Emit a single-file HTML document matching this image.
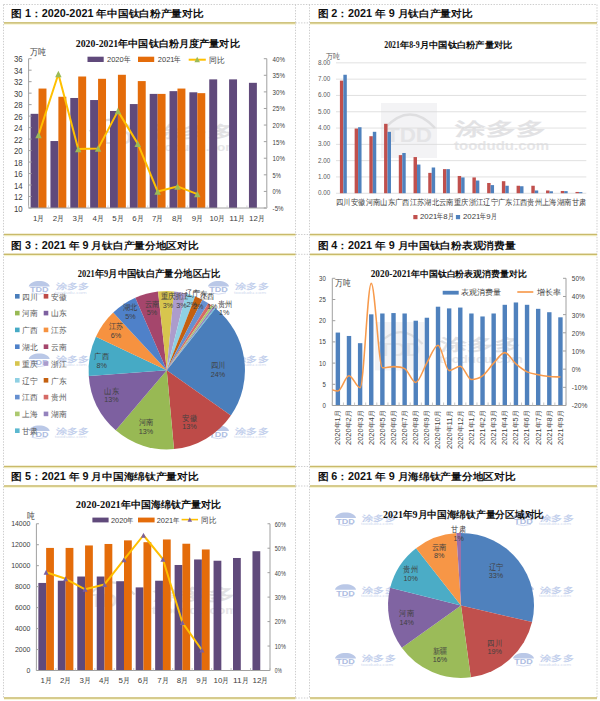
<!DOCTYPE html>
<html><head><meta charset="utf-8"><title>钛白粉与海绵钛产量图表</title>
<style>
html,body{margin:0;padding:0;background:#fff;}
body{width:600px;height:701px;overflow:hidden;position:relative;font-family:"Liberation Sans",sans-serif;}
svg{position:absolute;left:0;top:0;display:block;}
svg text{font-family:"Liberation Sans",sans-serif;white-space:pre;}
</style></head><body>
<svg width="600" height="701" viewBox="0 0 600 701">
<line x1="3.50" y1="4.50" x2="3.50" y2="698.50" stroke="#cdcdcd" stroke-width="1" stroke-dasharray="1.4,1.4"/>
<line x1="295.50" y1="4.50" x2="295.50" y2="698.50" stroke="#cdcdcd" stroke-width="1" stroke-dasharray="1.4,1.4"/>
<line x1="309.50" y1="4.50" x2="309.50" y2="698.50" stroke="#cdcdcd" stroke-width="1" stroke-dasharray="1.4,1.4"/>
<line x1="597.00" y1="4.50" x2="597.00" y2="698.50" stroke="#cdcdcd" stroke-width="1" stroke-dasharray="1.4,1.4"/>
<line x1="3.50" y1="4.50" x2="597.00" y2="4.50" stroke="#cdcdcd" stroke-width="1" stroke-dasharray="1.4,1.4"/>
<line x1="295.50" y1="22.90" x2="309.50" y2="22.90" stroke="#cdcdcd" stroke-width="1" stroke-dasharray="1.4,1.4"/>
<rect x="4.00" y="23.60" width="291.50" height="1.20" fill="#f8f6d2"/>
<rect x="4.00" y="22.15" width="291.50" height="1.50" fill="#c9ba6a"/>
<rect x="310.00" y="23.60" width="287.00" height="1.20" fill="#f8f6d2"/>
<rect x="310.00" y="22.15" width="287.00" height="1.50" fill="#c9ba6a"/>
<line x1="295.50" y1="234.50" x2="309.50" y2="234.50" stroke="#cdcdcd" stroke-width="1" stroke-dasharray="1.4,1.4"/>
<rect x="4.00" y="235.20" width="291.50" height="1.20" fill="#f8f6d2"/>
<rect x="4.00" y="233.75" width="291.50" height="1.50" fill="#c9ba6a"/>
<rect x="310.00" y="235.20" width="287.00" height="1.20" fill="#f8f6d2"/>
<rect x="310.00" y="233.75" width="287.00" height="1.50" fill="#c9ba6a"/>
<line x1="295.50" y1="254.30" x2="309.50" y2="254.30" stroke="#cdcdcd" stroke-width="1" stroke-dasharray="1.4,1.4"/>
<rect x="4.00" y="255.00" width="291.50" height="1.20" fill="#f8f6d2"/>
<rect x="4.00" y="253.55" width="291.50" height="1.50" fill="#c9ba6a"/>
<rect x="310.00" y="255.00" width="287.00" height="1.20" fill="#f8f6d2"/>
<rect x="310.00" y="253.55" width="287.00" height="1.50" fill="#c9ba6a"/>
<line x1="295.50" y1="466.50" x2="309.50" y2="466.50" stroke="#cdcdcd" stroke-width="1" stroke-dasharray="1.4,1.4"/>
<rect x="4.00" y="467.20" width="291.50" height="1.20" fill="#f8f6d2"/>
<rect x="4.00" y="465.75" width="291.50" height="1.50" fill="#c9ba6a"/>
<rect x="310.00" y="467.20" width="287.00" height="1.20" fill="#f8f6d2"/>
<rect x="310.00" y="465.75" width="287.00" height="1.50" fill="#c9ba6a"/>
<line x1="295.50" y1="486.00" x2="309.50" y2="486.00" stroke="#cdcdcd" stroke-width="1" stroke-dasharray="1.4,1.4"/>
<rect x="4.00" y="486.70" width="291.50" height="1.20" fill="#f8f6d2"/>
<rect x="4.00" y="485.25" width="291.50" height="1.50" fill="#c9ba6a"/>
<rect x="310.00" y="486.70" width="287.00" height="1.20" fill="#f8f6d2"/>
<rect x="310.00" y="485.25" width="287.00" height="1.50" fill="#c9ba6a"/>
<line x1="295.50" y1="698.00" x2="309.50" y2="698.00" stroke="#cdcdcd" stroke-width="1" stroke-dasharray="1.4,1.4"/>
<rect x="4.00" y="698.70" width="291.50" height="1.20" fill="#f8f6d2"/>
<rect x="4.00" y="697.25" width="291.50" height="1.50" fill="#c9ba6a"/>
<rect x="310.00" y="698.70" width="287.00" height="1.20" fill="#f8f6d2"/>
<rect x="310.00" y="697.25" width="287.00" height="1.50" fill="#c9ba6a"/>
<text x="11.30" y="16.70" font-size="9.6" fill="#111" font-weight="bold" textLength="10.70" lengthAdjust="spacingAndGlyphs">图</text>
<text x="22.00" y="16.70" font-size="10.2" fill="#111" font-weight="bold" textLength="9.02" lengthAdjust="spacingAndGlyphs"> 1</text>
<text x="31.02" y="16.70" font-size="9.6" fill="#111" font-weight="bold" textLength="10.70" lengthAdjust="spacingAndGlyphs">：</text>
<text x="41.72" y="16.70" font-size="10.2" fill="#111" font-weight="bold" textLength="54.71" lengthAdjust="spacingAndGlyphs">2020-2021 </text>
<text x="96.43" y="16.70" font-size="9.6" fill="#111" font-weight="bold" textLength="107.00" lengthAdjust="spacingAndGlyphs">年中国钛白粉产量对比</text>
<text x="317.50" y="16.70" font-size="9.6" fill="#111" font-weight="bold" textLength="10.70" lengthAdjust="spacingAndGlyphs">图</text>
<text x="328.20" y="16.70" font-size="10.2" fill="#111" font-weight="bold" textLength="9.02" lengthAdjust="spacingAndGlyphs"> 2</text>
<text x="337.22" y="16.70" font-size="9.6" fill="#111" font-weight="bold" textLength="10.70" lengthAdjust="spacingAndGlyphs">：</text>
<text x="347.92" y="16.70" font-size="10.2" fill="#111" font-weight="bold" textLength="27.06" lengthAdjust="spacingAndGlyphs">2021 </text>
<text x="374.97" y="16.70" font-size="9.6" fill="#111" font-weight="bold" textLength="10.70" lengthAdjust="spacingAndGlyphs">年</text>
<text x="385.67" y="16.70" font-size="10.2" fill="#111" font-weight="bold" textLength="12.02" lengthAdjust="spacingAndGlyphs"> 9 </text>
<text x="397.69" y="16.70" font-size="9.6" fill="#111" font-weight="bold" textLength="74.90" lengthAdjust="spacingAndGlyphs">月钛白产量对比</text>
<text x="11.30" y="248.50" font-size="9.6" fill="#111" font-weight="bold" textLength="10.70" lengthAdjust="spacingAndGlyphs">图</text>
<text x="22.00" y="248.50" font-size="10.2" fill="#111" font-weight="bold" textLength="9.02" lengthAdjust="spacingAndGlyphs"> 3</text>
<text x="31.02" y="248.50" font-size="9.6" fill="#111" font-weight="bold" textLength="10.70" lengthAdjust="spacingAndGlyphs">：</text>
<text x="41.72" y="248.50" font-size="10.2" fill="#111" font-weight="bold" textLength="27.06" lengthAdjust="spacingAndGlyphs">2021 </text>
<text x="68.77" y="248.50" font-size="9.6" fill="#111" font-weight="bold" textLength="10.70" lengthAdjust="spacingAndGlyphs">年</text>
<text x="79.47" y="248.50" font-size="10.2" fill="#111" font-weight="bold" textLength="12.02" lengthAdjust="spacingAndGlyphs"> 9 </text>
<text x="91.49" y="248.50" font-size="9.6" fill="#111" font-weight="bold" textLength="107.00" lengthAdjust="spacingAndGlyphs">月钛白产量分地区对比</text>
<text x="317.50" y="248.50" font-size="9.6" fill="#111" font-weight="bold" textLength="10.70" lengthAdjust="spacingAndGlyphs">图</text>
<text x="328.20" y="248.50" font-size="10.2" fill="#111" font-weight="bold" textLength="9.02" lengthAdjust="spacingAndGlyphs"> 4</text>
<text x="337.22" y="248.50" font-size="9.6" fill="#111" font-weight="bold" textLength="10.70" lengthAdjust="spacingAndGlyphs">：</text>
<text x="347.92" y="248.50" font-size="10.2" fill="#111" font-weight="bold" textLength="27.06" lengthAdjust="spacingAndGlyphs">2021 </text>
<text x="374.97" y="248.50" font-size="9.6" fill="#111" font-weight="bold" textLength="10.70" lengthAdjust="spacingAndGlyphs">年</text>
<text x="385.67" y="248.50" font-size="10.2" fill="#111" font-weight="bold" textLength="12.02" lengthAdjust="spacingAndGlyphs"> 9 </text>
<text x="397.69" y="248.50" font-size="9.6" fill="#111" font-weight="bold" textLength="117.70" lengthAdjust="spacingAndGlyphs">月中国钛白粉表观消费量</text>
<text x="11.30" y="480.30" font-size="9.6" fill="#111" font-weight="bold" textLength="10.70" lengthAdjust="spacingAndGlyphs">图</text>
<text x="22.00" y="480.30" font-size="10.2" fill="#111" font-weight="bold" textLength="9.02" lengthAdjust="spacingAndGlyphs"> 5</text>
<text x="31.02" y="480.30" font-size="9.6" fill="#111" font-weight="bold" textLength="10.70" lengthAdjust="spacingAndGlyphs">：</text>
<text x="41.72" y="480.30" font-size="10.2" fill="#111" font-weight="bold" textLength="27.06" lengthAdjust="spacingAndGlyphs">2021 </text>
<text x="68.77" y="480.30" font-size="9.6" fill="#111" font-weight="bold" textLength="10.70" lengthAdjust="spacingAndGlyphs">年</text>
<text x="79.47" y="480.30" font-size="10.2" fill="#111" font-weight="bold" textLength="12.02" lengthAdjust="spacingAndGlyphs"> 9 </text>
<text x="91.49" y="480.30" font-size="9.6" fill="#111" font-weight="bold" textLength="107.00" lengthAdjust="spacingAndGlyphs">月中国海绵钛产量对比</text>
<text x="317.50" y="480.30" font-size="9.6" fill="#111" font-weight="bold" textLength="10.70" lengthAdjust="spacingAndGlyphs">图</text>
<text x="328.20" y="480.30" font-size="10.2" fill="#111" font-weight="bold" textLength="9.02" lengthAdjust="spacingAndGlyphs"> 6</text>
<text x="337.22" y="480.30" font-size="9.6" fill="#111" font-weight="bold" textLength="10.70" lengthAdjust="spacingAndGlyphs">：</text>
<text x="347.92" y="480.30" font-size="10.2" fill="#111" font-weight="bold" textLength="27.06" lengthAdjust="spacingAndGlyphs">2021 </text>
<text x="374.97" y="480.30" font-size="9.6" fill="#111" font-weight="bold" textLength="10.70" lengthAdjust="spacingAndGlyphs">年</text>
<text x="385.67" y="480.30" font-size="10.2" fill="#111" font-weight="bold" textLength="12.02" lengthAdjust="spacingAndGlyphs"> 9 </text>
<text x="397.69" y="480.30" font-size="9.6" fill="#111" font-weight="bold" textLength="117.70" lengthAdjust="spacingAndGlyphs">月海绵钛产量分地区对比</text>
<path d="M89.60,131.50 Q112.10,107.20 134.60,131.50" fill="none" stroke="#dedee0" stroke-width="2.25"/>
<text x="90.50" y="144.10" font-size="18.0" fill="#e4e4e6" font-weight="bold" textLength="41.40" lengthAdjust="spacingAndGlyphs">TDD</text>
<text x="152.60" y="137.35" font-size="16.2" fill="#e2e2e4" font-weight="bold" textLength="82.80" lengthAdjust="spacingAndGlyphs">涂多多</text>
<text x="151.70" y="151.30" font-size="11.7" fill="#e6e6e8" font-weight="bold" textLength="85.50" lengthAdjust="spacingAndGlyphs">toodudu.com</text>
<rect x="30.59" y="113.83" width="7.94" height="94.17" fill="#604a7b"/>
<rect x="38.53" y="88.56" width="7.94" height="119.44" fill="#e46c0a"/>
<text x="32.93" y="221.20" font-size="7.9" fill="#404040" textLength="4.39" lengthAdjust="spacingAndGlyphs">1</text>
<text x="37.32" y="221.20" font-size="7.9" fill="#404040" textLength="6.81" lengthAdjust="spacingAndGlyphs">月</text>
<rect x="50.44" y="141.04" width="7.94" height="66.96" fill="#604a7b"/>
<rect x="58.38" y="96.77" width="7.94" height="111.23" fill="#e46c0a"/>
<text x="52.77" y="221.20" font-size="7.9" fill="#404040" textLength="4.39" lengthAdjust="spacingAndGlyphs">2</text>
<text x="57.17" y="221.20" font-size="7.9" fill="#404040" textLength="6.81" lengthAdjust="spacingAndGlyphs">月</text>
<rect x="70.28" y="97.98" width="7.94" height="110.02" fill="#604a7b"/>
<rect x="78.22" y="76.50" width="7.94" height="131.50" fill="#e46c0a"/>
<text x="72.62" y="221.20" font-size="7.9" fill="#404040" textLength="4.39" lengthAdjust="spacingAndGlyphs">3</text>
<text x="77.02" y="221.20" font-size="7.9" fill="#404040" textLength="6.81" lengthAdjust="spacingAndGlyphs">月</text>
<rect x="90.14" y="100.04" width="7.94" height="107.96" fill="#604a7b"/>
<rect x="98.08" y="78.80" width="7.94" height="129.20" fill="#e46c0a"/>
<text x="92.48" y="221.20" font-size="7.9" fill="#404040" textLength="4.39" lengthAdjust="spacingAndGlyphs">4</text>
<text x="96.87" y="221.20" font-size="7.9" fill="#404040" textLength="6.81" lengthAdjust="spacingAndGlyphs">月</text>
<rect x="109.99" y="110.96" width="7.94" height="97.04" fill="#604a7b"/>
<rect x="117.93" y="74.78" width="7.94" height="133.22" fill="#e46c0a"/>
<text x="112.33" y="221.20" font-size="7.9" fill="#404040" textLength="4.39" lengthAdjust="spacingAndGlyphs">5</text>
<text x="116.72" y="221.20" font-size="7.9" fill="#404040" textLength="6.81" lengthAdjust="spacingAndGlyphs">月</text>
<rect x="129.84" y="104.06" width="7.94" height="103.94" fill="#604a7b"/>
<rect x="137.78" y="81.09" width="7.94" height="126.91" fill="#e46c0a"/>
<text x="132.18" y="221.20" font-size="7.9" fill="#404040" textLength="4.39" lengthAdjust="spacingAndGlyphs">6</text>
<text x="136.57" y="221.20" font-size="7.9" fill="#404040" textLength="6.81" lengthAdjust="spacingAndGlyphs">月</text>
<rect x="149.69" y="93.90" width="7.94" height="114.10" fill="#604a7b"/>
<rect x="157.62" y="93.90" width="7.94" height="114.10" fill="#e46c0a"/>
<text x="152.03" y="221.20" font-size="7.9" fill="#404040" textLength="4.39" lengthAdjust="spacingAndGlyphs">7</text>
<text x="156.42" y="221.20" font-size="7.9" fill="#404040" textLength="6.81" lengthAdjust="spacingAndGlyphs">月</text>
<rect x="169.53" y="91.14" width="7.94" height="116.86" fill="#604a7b"/>
<rect x="177.47" y="88.56" width="7.94" height="119.44" fill="#e46c0a"/>
<text x="171.88" y="221.20" font-size="7.9" fill="#404040" textLength="4.39" lengthAdjust="spacingAndGlyphs">8</text>
<text x="176.27" y="221.20" font-size="7.9" fill="#404040" textLength="6.81" lengthAdjust="spacingAndGlyphs">月</text>
<rect x="189.39" y="92.29" width="7.94" height="115.71" fill="#604a7b"/>
<rect x="197.33" y="93.15" width="7.94" height="114.85" fill="#e46c0a"/>
<text x="191.73" y="221.20" font-size="7.9" fill="#404040" textLength="4.39" lengthAdjust="spacingAndGlyphs">9</text>
<text x="196.12" y="221.20" font-size="7.9" fill="#404040" textLength="6.81" lengthAdjust="spacingAndGlyphs">月</text>
<rect x="209.24" y="79.37" width="7.94" height="128.63" fill="#604a7b"/>
<text x="209.43" y="221.20" font-size="7.9" fill="#404040" textLength="8.79" lengthAdjust="spacingAndGlyphs">10</text>
<text x="218.21" y="221.20" font-size="7.9" fill="#404040" textLength="6.71" lengthAdjust="spacingAndGlyphs">月</text>
<rect x="229.09" y="79.37" width="7.94" height="128.63" fill="#604a7b"/>
<text x="229.28" y="221.20" font-size="7.9" fill="#404040" textLength="8.79" lengthAdjust="spacingAndGlyphs">11</text>
<text x="238.06" y="221.20" font-size="7.9" fill="#404040" textLength="6.71" lengthAdjust="spacingAndGlyphs">月</text>
<rect x="248.94" y="82.82" width="7.94" height="125.18" fill="#604a7b"/>
<text x="249.12" y="221.20" font-size="7.9" fill="#404040" textLength="8.79" lengthAdjust="spacingAndGlyphs">12</text>
<text x="257.91" y="221.20" font-size="7.9" fill="#404040" textLength="6.71" lengthAdjust="spacingAndGlyphs">月</text>
<line x1="28.60" y1="58.70" x2="28.60" y2="208.00" stroke="#a0a0a0" stroke-width="1"/>
<line x1="266.80" y1="58.70" x2="266.80" y2="208.00" stroke="#a0a0a0" stroke-width="1"/>
<line x1="28.60" y1="208.00" x2="266.80" y2="208.00" stroke="#a0a0a0" stroke-width="1"/>
<line x1="28.60" y1="208.00" x2="31.60" y2="208.00" stroke="#a0a0a0" stroke-width="1"/>
<text x="13.99" y="211.60" font-size="8.8" fill="#404040" textLength="8.71" lengthAdjust="spacingAndGlyphs">10</text>
<line x1="28.60" y1="196.52" x2="31.60" y2="196.52" stroke="#a0a0a0" stroke-width="1"/>
<text x="13.99" y="200.12" font-size="8.8" fill="#404040" textLength="8.71" lengthAdjust="spacingAndGlyphs">12</text>
<line x1="28.60" y1="185.03" x2="31.60" y2="185.03" stroke="#a0a0a0" stroke-width="1"/>
<text x="13.99" y="188.63" font-size="8.8" fill="#404040" textLength="8.71" lengthAdjust="spacingAndGlyphs">14</text>
<line x1="28.60" y1="173.55" x2="31.60" y2="173.55" stroke="#a0a0a0" stroke-width="1"/>
<text x="13.99" y="177.15" font-size="8.8" fill="#404040" textLength="8.71" lengthAdjust="spacingAndGlyphs">16</text>
<line x1="28.60" y1="162.06" x2="31.60" y2="162.06" stroke="#a0a0a0" stroke-width="1"/>
<text x="13.99" y="165.66" font-size="8.8" fill="#404040" textLength="8.71" lengthAdjust="spacingAndGlyphs">18</text>
<line x1="28.60" y1="150.58" x2="31.60" y2="150.58" stroke="#a0a0a0" stroke-width="1"/>
<text x="13.99" y="154.18" font-size="8.8" fill="#404040" textLength="8.71" lengthAdjust="spacingAndGlyphs">20</text>
<line x1="28.60" y1="139.09" x2="31.60" y2="139.09" stroke="#a0a0a0" stroke-width="1"/>
<text x="13.99" y="142.69" font-size="8.8" fill="#404040" textLength="8.71" lengthAdjust="spacingAndGlyphs">22</text>
<line x1="28.60" y1="127.61" x2="31.60" y2="127.61" stroke="#a0a0a0" stroke-width="1"/>
<text x="13.99" y="131.21" font-size="8.8" fill="#404040" textLength="8.71" lengthAdjust="spacingAndGlyphs">24</text>
<line x1="28.60" y1="116.12" x2="31.60" y2="116.12" stroke="#a0a0a0" stroke-width="1"/>
<text x="13.99" y="119.72" font-size="8.8" fill="#404040" textLength="8.71" lengthAdjust="spacingAndGlyphs">26</text>
<line x1="28.60" y1="104.64" x2="31.60" y2="104.64" stroke="#a0a0a0" stroke-width="1"/>
<text x="13.99" y="108.24" font-size="8.8" fill="#404040" textLength="8.71" lengthAdjust="spacingAndGlyphs">28</text>
<line x1="28.60" y1="93.15" x2="31.60" y2="93.15" stroke="#a0a0a0" stroke-width="1"/>
<text x="13.99" y="96.75" font-size="8.8" fill="#404040" textLength="8.71" lengthAdjust="spacingAndGlyphs">30</text>
<line x1="28.60" y1="81.67" x2="31.60" y2="81.67" stroke="#a0a0a0" stroke-width="1"/>
<text x="13.99" y="85.27" font-size="8.8" fill="#404040" textLength="8.71" lengthAdjust="spacingAndGlyphs">32</text>
<line x1="28.60" y1="70.18" x2="31.60" y2="70.18" stroke="#a0a0a0" stroke-width="1"/>
<text x="13.99" y="73.78" font-size="8.8" fill="#404040" textLength="8.71" lengthAdjust="spacingAndGlyphs">34</text>
<line x1="28.60" y1="58.70" x2="31.60" y2="58.70" stroke="#a0a0a0" stroke-width="1"/>
<text x="13.99" y="62.30" font-size="8.8" fill="#404040" textLength="8.71" lengthAdjust="spacingAndGlyphs">36</text>
<line x1="263.80" y1="208.00" x2="266.80" y2="208.00" stroke="#a0a0a0" stroke-width="1"/>
<text x="272.60" y="210.90" font-size="8.0" fill="#404040" textLength="10.90" lengthAdjust="spacingAndGlyphs">-5%</text>
<line x1="263.80" y1="191.41" x2="266.80" y2="191.41" stroke="#a0a0a0" stroke-width="1"/>
<text x="272.60" y="194.31" font-size="8.0" fill="#404040" textLength="8.30" lengthAdjust="spacingAndGlyphs">0%</text>
<line x1="263.80" y1="174.82" x2="266.80" y2="174.82" stroke="#a0a0a0" stroke-width="1"/>
<text x="272.60" y="177.72" font-size="8.0" fill="#404040" textLength="8.30" lengthAdjust="spacingAndGlyphs">5%</text>
<line x1="263.80" y1="158.23" x2="266.80" y2="158.23" stroke="#a0a0a0" stroke-width="1"/>
<text x="272.60" y="161.13" font-size="8.0" fill="#404040" textLength="12.30" lengthAdjust="spacingAndGlyphs">10%</text>
<line x1="263.80" y1="141.64" x2="266.80" y2="141.64" stroke="#a0a0a0" stroke-width="1"/>
<text x="272.60" y="144.54" font-size="8.0" fill="#404040" textLength="12.30" lengthAdjust="spacingAndGlyphs">15%</text>
<line x1="263.80" y1="125.06" x2="266.80" y2="125.06" stroke="#a0a0a0" stroke-width="1"/>
<text x="272.60" y="127.96" font-size="8.0" fill="#404040" textLength="12.30" lengthAdjust="spacingAndGlyphs">20%</text>
<line x1="263.80" y1="108.47" x2="266.80" y2="108.47" stroke="#a0a0a0" stroke-width="1"/>
<text x="272.60" y="111.37" font-size="8.0" fill="#404040" textLength="12.30" lengthAdjust="spacingAndGlyphs">25%</text>
<line x1="263.80" y1="91.88" x2="266.80" y2="91.88" stroke="#a0a0a0" stroke-width="1"/>
<text x="272.60" y="94.78" font-size="8.0" fill="#404040" textLength="12.30" lengthAdjust="spacingAndGlyphs">30%</text>
<line x1="263.80" y1="75.29" x2="266.80" y2="75.29" stroke="#a0a0a0" stroke-width="1"/>
<text x="272.60" y="78.19" font-size="8.0" fill="#404040" textLength="12.30" lengthAdjust="spacingAndGlyphs">35%</text>
<line x1="263.80" y1="58.70" x2="266.80" y2="58.70" stroke="#a0a0a0" stroke-width="1"/>
<text x="272.60" y="61.60" font-size="8.0" fill="#404040" textLength="12.30" lengthAdjust="spacingAndGlyphs">40%</text>
<line x1="28.60" y1="205.50" x2="28.60" y2="208.00" stroke="#c8c8c8" stroke-width="0.8"/>
<line x1="48.45" y1="205.50" x2="48.45" y2="208.00" stroke="#c8c8c8" stroke-width="0.8"/>
<line x1="68.30" y1="205.50" x2="68.30" y2="208.00" stroke="#c8c8c8" stroke-width="0.8"/>
<line x1="88.15" y1="205.50" x2="88.15" y2="208.00" stroke="#c8c8c8" stroke-width="0.8"/>
<line x1="108.00" y1="205.50" x2="108.00" y2="208.00" stroke="#c8c8c8" stroke-width="0.8"/>
<line x1="127.85" y1="205.50" x2="127.85" y2="208.00" stroke="#c8c8c8" stroke-width="0.8"/>
<line x1="147.70" y1="205.50" x2="147.70" y2="208.00" stroke="#c8c8c8" stroke-width="0.8"/>
<line x1="167.55" y1="205.50" x2="167.55" y2="208.00" stroke="#c8c8c8" stroke-width="0.8"/>
<line x1="187.40" y1="205.50" x2="187.40" y2="208.00" stroke="#c8c8c8" stroke-width="0.8"/>
<line x1="207.25" y1="205.50" x2="207.25" y2="208.00" stroke="#c8c8c8" stroke-width="0.8"/>
<line x1="227.10" y1="205.50" x2="227.10" y2="208.00" stroke="#c8c8c8" stroke-width="0.8"/>
<line x1="246.95" y1="205.50" x2="246.95" y2="208.00" stroke="#c8c8c8" stroke-width="0.8"/>
<line x1="266.80" y1="205.50" x2="266.80" y2="208.00" stroke="#c8c8c8" stroke-width="0.8"/>
<polyline points="38.53,135.01 58.38,73.96 78.22,148.94 98.08,148.61 117.93,111.12 137.78,143.64 157.62,191.41 177.47,186.43 197.33,194.07" fill="none" stroke="#ffc000" stroke-width="2" stroke-linejoin="round"/>
<path d="M38.53,131.76 L41.78,138.26 L35.28,138.26 Z" fill="#9bbb59"/>
<path d="M58.38,70.71 L61.62,77.21 L55.12,77.21 Z" fill="#9bbb59"/>
<path d="M78.22,145.69 L81.47,152.19 L74.97,152.19 Z" fill="#9bbb59"/>
<path d="M98.08,145.36 L101.33,151.86 L94.83,151.86 Z" fill="#9bbb59"/>
<path d="M117.93,107.87 L121.18,114.37 L114.68,114.37 Z" fill="#9bbb59"/>
<path d="M137.78,140.39 L141.03,146.89 L134.53,146.89 Z" fill="#9bbb59"/>
<path d="M157.62,188.16 L160.88,194.66 L154.38,194.66 Z" fill="#9bbb59"/>
<path d="M177.47,183.18 L180.72,189.68 L174.22,189.68 Z" fill="#9bbb59"/>
<path d="M197.33,190.82 L200.58,197.32 L194.08,197.32 Z" fill="#9bbb59"/>
<text x="75.80" y="46.70" font-size="9.8" fill="#111" font-weight="bold" style="font-family:'Liberation Serif',serif" textLength="42.46" lengthAdjust="spacingAndGlyphs">2020-2021</text>
<text x="118.26" y="46.70" font-size="10.0" fill="#111" font-weight="bold" textLength="121.44" lengthAdjust="spacingAndGlyphs">年中国钛白粉月度产量对比</text>
<text x="30.00" y="54.50" font-size="8.5" fill="#404040" textLength="16.00" lengthAdjust="spacingAndGlyphs">万吨</text>
<rect x="87.50" y="56.70" width="16.20" height="5.30" fill="#604a7b"/>
<text x="107.00" y="62.40" font-size="7.5" fill="#404040" textLength="16.68" lengthAdjust="spacingAndGlyphs">2020</text>
<text x="123.68" y="62.40" font-size="7.5" fill="#404040" textLength="6.62" lengthAdjust="spacingAndGlyphs">年</text>
<rect x="138.00" y="56.70" width="16.20" height="5.30" fill="#e46c0a"/>
<text x="157.80" y="62.40" font-size="7.5" fill="#404040" textLength="16.68" lengthAdjust="spacingAndGlyphs">2021</text>
<text x="174.48" y="62.40" font-size="7.5" fill="#404040" textLength="6.62" lengthAdjust="spacingAndGlyphs">年</text>
<line x1="188.70" y1="59.70" x2="205.80" y2="59.70" stroke="#ffc000" stroke-width="2"/>
<path d="M197.20,56.75 L199.95,62.25 L194.45,62.25 Z" fill="#9bbb59"/>
<text x="209.00" y="62.60" font-size="8.0" fill="#404040" textLength="15.50" lengthAdjust="spacingAndGlyphs">同比</text>
<rect x="381.00" y="103.00" width="56.00" height="55.00" fill="#f3f3f5"/>
<path d="M385.00,128.00 Q410.00,101.00 435.00,128.00" fill="none" stroke="#dedee0" stroke-width="2.50"/>
<text x="386.00" y="142.00" font-size="20.0" fill="#e4e4e6" font-weight="bold" textLength="46.00" lengthAdjust="spacingAndGlyphs">TDD</text>
<text x="455.00" y="134.50" font-size="18.0" fill="#e2e2e4" font-weight="bold" textLength="92.00" lengthAdjust="spacingAndGlyphs">涂多多</text>
<text x="454.00" y="150.00" font-size="13.0" fill="#e6e6e8" font-weight="bold" textLength="95.00" lengthAdjust="spacingAndGlyphs">toodudu.com</text>
<line x1="336.00" y1="193.25" x2="586.30" y2="193.25" stroke="#d9d9d9" stroke-width="0.8"/>
<text x="318.02" y="195.25" font-size="7.6" fill="#595959" textLength="12.28" lengthAdjust="spacingAndGlyphs">0.00</text>
<line x1="336.00" y1="176.95" x2="586.30" y2="176.95" stroke="#d9d9d9" stroke-width="0.8"/>
<text x="318.02" y="178.95" font-size="7.6" fill="#595959" textLength="12.28" lengthAdjust="spacingAndGlyphs">1.00</text>
<line x1="336.00" y1="160.65" x2="586.30" y2="160.65" stroke="#d9d9d9" stroke-width="0.8"/>
<text x="318.02" y="162.65" font-size="7.6" fill="#595959" textLength="12.28" lengthAdjust="spacingAndGlyphs">2.00</text>
<line x1="336.00" y1="144.35" x2="586.30" y2="144.35" stroke="#d9d9d9" stroke-width="0.8"/>
<text x="318.02" y="146.35" font-size="7.6" fill="#595959" textLength="12.28" lengthAdjust="spacingAndGlyphs">3.00</text>
<line x1="336.00" y1="128.05" x2="586.30" y2="128.05" stroke="#d9d9d9" stroke-width="0.8"/>
<text x="318.02" y="130.05" font-size="7.6" fill="#595959" textLength="12.28" lengthAdjust="spacingAndGlyphs">4.00</text>
<line x1="336.00" y1="111.75" x2="586.30" y2="111.75" stroke="#d9d9d9" stroke-width="0.8"/>
<text x="318.02" y="113.75" font-size="7.6" fill="#595959" textLength="12.28" lengthAdjust="spacingAndGlyphs">5.00</text>
<line x1="336.00" y1="95.45" x2="586.30" y2="95.45" stroke="#d9d9d9" stroke-width="0.8"/>
<text x="318.02" y="97.45" font-size="7.6" fill="#595959" textLength="12.28" lengthAdjust="spacingAndGlyphs">6.00</text>
<line x1="336.00" y1="79.15" x2="586.30" y2="79.15" stroke="#d9d9d9" stroke-width="0.8"/>
<text x="318.02" y="81.15" font-size="7.6" fill="#595959" textLength="12.28" lengthAdjust="spacingAndGlyphs">7.00</text>
<line x1="336.00" y1="62.85" x2="586.30" y2="62.85" stroke="#d9d9d9" stroke-width="0.8"/>
<text x="318.02" y="64.85" font-size="7.6" fill="#595959" textLength="12.28" lengthAdjust="spacingAndGlyphs">8.00</text>
<rect x="339.91" y="80.62" width="3.45" height="112.63" fill="#c0504d"/>
<rect x="343.36" y="74.75" width="3.45" height="118.50" fill="#4f81bd"/>
<text x="336.06" y="204.60" font-size="7.6" fill="#404040" textLength="14.60" lengthAdjust="spacingAndGlyphs">四川</text>
<rect x="354.64" y="128.54" width="3.45" height="64.71" fill="#c0504d"/>
<rect x="358.09" y="127.23" width="3.45" height="66.02" fill="#4f81bd"/>
<text x="350.79" y="204.60" font-size="7.6" fill="#404040" textLength="14.60" lengthAdjust="spacingAndGlyphs">安徽</text>
<rect x="369.36" y="136.20" width="3.45" height="57.05" fill="#c0504d"/>
<rect x="372.81" y="131.80" width="3.45" height="61.45" fill="#4f81bd"/>
<text x="365.51" y="204.60" font-size="7.6" fill="#404040" textLength="14.60" lengthAdjust="spacingAndGlyphs">河南</text>
<rect x="384.08" y="123.81" width="3.45" height="69.44" fill="#c0504d"/>
<rect x="387.53" y="131.80" width="3.45" height="61.45" fill="#4f81bd"/>
<text x="380.23" y="204.60" font-size="7.6" fill="#404040" textLength="14.60" lengthAdjust="spacingAndGlyphs">山东</text>
<rect x="398.81" y="155.11" width="3.45" height="38.14" fill="#c0504d"/>
<rect x="402.26" y="152.99" width="3.45" height="40.26" fill="#4f81bd"/>
<text x="394.96" y="204.60" font-size="7.6" fill="#404040" textLength="14.60" lengthAdjust="spacingAndGlyphs">广西</text>
<rect x="413.53" y="157.06" width="3.45" height="36.19" fill="#c0504d"/>
<rect x="416.98" y="164.56" width="3.45" height="28.69" fill="#4f81bd"/>
<text x="409.68" y="204.60" font-size="7.6" fill="#404040" textLength="14.60" lengthAdjust="spacingAndGlyphs">江苏</text>
<rect x="428.25" y="172.88" width="3.45" height="20.38" fill="#c0504d"/>
<rect x="431.70" y="167.50" width="3.45" height="25.75" fill="#4f81bd"/>
<text x="424.40" y="204.60" font-size="7.6" fill="#404040" textLength="14.60" lengthAdjust="spacingAndGlyphs">湖北</text>
<rect x="442.98" y="169.13" width="3.45" height="24.12" fill="#c0504d"/>
<rect x="446.43" y="169.13" width="3.45" height="24.12" fill="#4f81bd"/>
<text x="439.13" y="204.60" font-size="7.6" fill="#404040" textLength="14.60" lengthAdjust="spacingAndGlyphs">云南</text>
<rect x="457.70" y="175.97" width="3.45" height="17.28" fill="#c0504d"/>
<rect x="461.15" y="177.44" width="3.45" height="15.81" fill="#4f81bd"/>
<text x="453.85" y="204.60" font-size="7.6" fill="#404040" textLength="14.60" lengthAdjust="spacingAndGlyphs">重庆</text>
<rect x="472.42" y="177.44" width="3.45" height="15.81" fill="#c0504d"/>
<rect x="475.87" y="180.54" width="3.45" height="12.71" fill="#4f81bd"/>
<text x="468.57" y="204.60" font-size="7.6" fill="#404040" textLength="14.60" lengthAdjust="spacingAndGlyphs">浙江</text>
<rect x="487.15" y="182.98" width="3.45" height="10.27" fill="#c0504d"/>
<rect x="490.60" y="185.10" width="3.45" height="8.15" fill="#4f81bd"/>
<text x="483.30" y="204.60" font-size="7.6" fill="#404040" textLength="14.60" lengthAdjust="spacingAndGlyphs">辽宁</text>
<rect x="501.87" y="181.19" width="3.45" height="12.06" fill="#c0504d"/>
<rect x="505.32" y="185.75" width="3.45" height="7.50" fill="#4f81bd"/>
<text x="498.02" y="204.60" font-size="7.6" fill="#404040" textLength="14.60" lengthAdjust="spacingAndGlyphs">广东</text>
<rect x="516.59" y="185.75" width="3.45" height="7.50" fill="#c0504d"/>
<rect x="520.04" y="186.24" width="3.45" height="7.01" fill="#4f81bd"/>
<text x="512.74" y="204.60" font-size="7.6" fill="#404040" textLength="14.60" lengthAdjust="spacingAndGlyphs">江西</text>
<rect x="531.32" y="185.75" width="3.45" height="7.50" fill="#c0504d"/>
<rect x="534.77" y="190.48" width="3.45" height="2.77" fill="#4f81bd"/>
<text x="527.47" y="204.60" font-size="7.6" fill="#404040" textLength="14.60" lengthAdjust="spacingAndGlyphs">贵州</text>
<rect x="546.04" y="190.48" width="3.45" height="2.77" fill="#c0504d"/>
<rect x="549.49" y="191.29" width="3.45" height="1.96" fill="#4f81bd"/>
<text x="542.19" y="204.60" font-size="7.6" fill="#404040" textLength="14.60" lengthAdjust="spacingAndGlyphs">上海</text>
<rect x="560.76" y="190.97" width="3.45" height="2.28" fill="#c0504d"/>
<rect x="564.21" y="191.13" width="3.45" height="2.12" fill="#4f81bd"/>
<text x="556.91" y="204.60" font-size="7.6" fill="#404040" textLength="14.60" lengthAdjust="spacingAndGlyphs">湖南</text>
<rect x="575.49" y="191.95" width="3.45" height="1.30" fill="#c0504d"/>
<rect x="578.94" y="192.11" width="3.45" height="1.14" fill="#4f81bd"/>
<text x="571.64" y="204.60" font-size="7.6" fill="#404040" textLength="14.60" lengthAdjust="spacingAndGlyphs">甘肃</text>
<text x="384.30" y="47.70" font-size="9.3" fill="#111" font-weight="bold" style="font-family:'Liberation Serif',serif" textLength="15.62" lengthAdjust="spacingAndGlyphs">2021</text>
<text x="399.92" y="47.70" font-size="9.3" fill="#111" font-weight="bold" textLength="9.31" lengthAdjust="spacingAndGlyphs">年</text>
<text x="409.23" y="47.70" font-size="9.3" fill="#111" font-weight="bold" style="font-family:'Liberation Serif',serif" textLength="10.41" lengthAdjust="spacingAndGlyphs">8-9</text>
<text x="419.64" y="47.70" font-size="9.3" fill="#111" font-weight="bold" textLength="93.06" lengthAdjust="spacingAndGlyphs">月中国钛白粉产量对比</text>
<text x="325.50" y="58.60" font-size="8" fill="#595959" textLength="14.00" lengthAdjust="spacingAndGlyphs">万吨</text>
<rect x="413.30" y="215.00" width="4.20" height="4.20" fill="#c0504d"/>
<text x="420.00" y="219.20" font-size="7.8" fill="#404040" textLength="17.35" lengthAdjust="spacingAndGlyphs">2021</text>
<text x="437.35" y="219.20" font-size="7.8" fill="#404040" textLength="5.91" lengthAdjust="spacingAndGlyphs">年</text>
<text x="443.26" y="219.20" font-size="7.8" fill="#404040" textLength="4.34" lengthAdjust="spacingAndGlyphs">8</text>
<text x="447.59" y="219.20" font-size="7.8" fill="#404040" textLength="5.91" lengthAdjust="spacingAndGlyphs">月</text>
<rect x="455.90" y="215.00" width="4.20" height="4.20" fill="#4f81bd"/>
<text x="463.00" y="219.20" font-size="7.8" fill="#404040" textLength="17.35" lengthAdjust="spacingAndGlyphs">2021</text>
<text x="480.35" y="219.20" font-size="7.8" fill="#404040" textLength="5.91" lengthAdjust="spacingAndGlyphs">年</text>
<text x="486.26" y="219.20" font-size="7.8" fill="#404040" textLength="4.34" lengthAdjust="spacingAndGlyphs">9</text>
<text x="490.59" y="219.20" font-size="7.8" fill="#404040" textLength="5.91" lengthAdjust="spacingAndGlyphs">月</text>
<path d="M28.70,286.50 C29.70,279.00 48.70,279.00 49.70,286.50 Z" fill="#bac8e7"/>
<text x="29.90" y="292.30" font-size="7.4" fill="#aebde2" font-weight="bold" textLength="18.60" lengthAdjust="spacingAndGlyphs">TDD</text>
<path d="M31.70,292.80 Q39.20,295.50 46.70,292.80" fill="none" stroke="#c6d1ec" stroke-width="0.8"/>
<text x="55.70" y="289.30" font-size="7.6" fill="#c3cfec" font-weight="bold" textLength="34.00" lengthAdjust="spacingAndGlyphs">涂多多</text>
<text x="54.70" y="293.80" font-size="3.6" fill="#d3dbef" textLength="32.00" lengthAdjust="spacingAndGlyphs">toodudu.com</text>
<path d="M208.00,286.50 C209.00,279.00 228.00,279.00 229.00,286.50 Z" fill="#bac8e7"/>
<text x="209.20" y="292.30" font-size="7.4" fill="#aebde2" font-weight="bold" textLength="18.60" lengthAdjust="spacingAndGlyphs">TDD</text>
<path d="M211.00,292.80 Q218.50,295.50 226.00,292.80" fill="none" stroke="#c6d1ec" stroke-width="0.8"/>
<text x="235.00" y="289.30" font-size="7.6" fill="#c3cfec" font-weight="bold" textLength="34.00" lengthAdjust="spacingAndGlyphs">涂多多</text>
<text x="234.00" y="293.80" font-size="3.6" fill="#d3dbef" textLength="32.00" lengthAdjust="spacingAndGlyphs">toodudu.com</text>
<path d="M28.70,359.00 C29.70,351.50 48.70,351.50 49.70,359.00 Z" fill="#bac8e7"/>
<text x="29.90" y="364.80" font-size="7.4" fill="#aebde2" font-weight="bold" textLength="18.60" lengthAdjust="spacingAndGlyphs">TDD</text>
<path d="M31.70,365.30 Q39.20,368.00 46.70,365.30" fill="none" stroke="#c6d1ec" stroke-width="0.8"/>
<text x="55.70" y="361.80" font-size="7.6" fill="#c3cfec" font-weight="bold" textLength="34.00" lengthAdjust="spacingAndGlyphs">涂多多</text>
<text x="54.70" y="366.30" font-size="3.6" fill="#d3dbef" textLength="32.00" lengthAdjust="spacingAndGlyphs">toodudu.com</text>
<path d="M208.00,359.00 C209.00,351.50 228.00,351.50 229.00,359.00 Z" fill="#bac8e7"/>
<text x="209.20" y="364.80" font-size="7.4" fill="#aebde2" font-weight="bold" textLength="18.60" lengthAdjust="spacingAndGlyphs">TDD</text>
<path d="M211.00,365.30 Q218.50,368.00 226.00,365.30" fill="none" stroke="#c6d1ec" stroke-width="0.8"/>
<text x="235.00" y="361.80" font-size="7.6" fill="#c3cfec" font-weight="bold" textLength="34.00" lengthAdjust="spacingAndGlyphs">涂多多</text>
<text x="234.00" y="366.30" font-size="3.6" fill="#d3dbef" textLength="32.00" lengthAdjust="spacingAndGlyphs">toodudu.com</text>
<path d="M28.70,431.00 C29.70,423.50 48.70,423.50 49.70,431.00 Z" fill="#bac8e7"/>
<text x="29.90" y="436.80" font-size="7.4" fill="#aebde2" font-weight="bold" textLength="18.60" lengthAdjust="spacingAndGlyphs">TDD</text>
<path d="M31.70,437.30 Q39.20,440.00 46.70,437.30" fill="none" stroke="#c6d1ec" stroke-width="0.8"/>
<text x="55.70" y="433.80" font-size="7.6" fill="#c3cfec" font-weight="bold" textLength="34.00" lengthAdjust="spacingAndGlyphs">涂多多</text>
<text x="54.70" y="438.30" font-size="3.6" fill="#d3dbef" textLength="32.00" lengthAdjust="spacingAndGlyphs">toodudu.com</text>
<path d="M208.00,431.00 C209.00,423.50 228.00,423.50 229.00,431.00 Z" fill="#bac8e7"/>
<text x="209.20" y="436.80" font-size="7.4" fill="#aebde2" font-weight="bold" textLength="18.60" lengthAdjust="spacingAndGlyphs">TDD</text>
<path d="M211.00,437.30 Q218.50,440.00 226.00,437.30" fill="none" stroke="#c6d1ec" stroke-width="0.8"/>
<text x="235.00" y="433.80" font-size="7.6" fill="#c3cfec" font-weight="bold" textLength="34.00" lengthAdjust="spacingAndGlyphs">涂多多</text>
<text x="234.00" y="438.30" font-size="3.6" fill="#d3dbef" textLength="32.00" lengthAdjust="spacingAndGlyphs">toodudu.com</text>
<path d="M166.75,370.25 L215.54,308.35 A78.20,79.20 0 0 1 230.89,415.56 Z" fill="#4a7ebb"/>
<path d="M166.75,370.25 L230.89,415.56 A78.20,79.20 0 0 1 173.97,449.11 Z" fill="#be4b48"/>
<path d="M166.75,370.25 L173.97,449.11 A78.20,79.20 0 0 1 115.76,430.29 Z" fill="#98b954"/>
<path d="M166.75,370.25 L115.76,430.29 A78.20,79.20 0 0 1 88.76,376.05 Z" fill="#7d60a0"/>
<path d="M166.75,370.25 L88.76,376.05 A78.20,79.20 0 0 1 95.93,336.65 Z" fill="#46aac5"/>
<path d="M166.75,370.25 L95.93,336.65 A78.20,79.20 0 0 1 113.22,312.52 Z" fill="#f69240"/>
<path d="M166.75,370.25 L113.22,312.52 A78.20,79.20 0 0 1 135.32,297.73 Z" fill="#4f81c9"/>
<path d="M166.75,370.25 L135.32,297.73 A78.20,79.20 0 0 1 158.03,291.54 Z" fill="#a5466c"/>
<path d="M166.75,370.25 L158.03,291.54 A78.20,79.20 0 0 1 173.97,291.39 Z" fill="#d7c54e"/>
<path d="M166.75,370.25 L173.97,291.39 A78.20,79.20 0 0 1 185.93,293.47 Z" fill="#ac9ccc"/>
<path d="M166.75,370.25 L185.93,293.47 A78.20,79.20 0 0 1 195.16,296.46 Z" fill="#8fd0e3"/>
<path d="M166.75,370.25 L195.16,296.46 A78.20,79.20 0 0 1 202.37,299.75 Z" fill="#c4600f"/>
<path d="M166.75,370.25 L202.37,299.75 A78.20,79.20 0 0 1 208.31,303.16 Z" fill="#6690d0"/>
<path d="M166.75,370.25 L208.31,303.16 A78.20,79.20 0 0 1 211.38,305.21 Z" fill="#d56a66"/>
<path d="M166.75,370.25 L211.38,305.21 A78.20,79.20 0 0 1 213.27,306.58 Z" fill="#acc96f"/>
<path d="M166.75,370.25 L213.27,306.58 A78.20,79.20 0 0 1 214.79,307.75 Z" fill="#9483bd"/>
<path d="M166.75,370.25 L214.79,307.75 A78.20,79.20 0 0 1 215.54,308.35 Z" fill="#5bb8d0"/>
<rect x="15.00" y="294.00" width="4.60" height="4.60" fill="#4a7ebb"/>
<text x="22.30" y="299.50" font-size="8.3" fill="#595959" textLength="15.50" lengthAdjust="spacingAndGlyphs">四川</text>
<rect x="43.70" y="294.00" width="4.60" height="4.60" fill="#be4b48"/>
<text x="51.00" y="299.50" font-size="8.3" fill="#595959" textLength="15.50" lengthAdjust="spacingAndGlyphs">安徽</text>
<rect x="15.00" y="310.80" width="4.60" height="4.60" fill="#98b954"/>
<text x="22.30" y="316.30" font-size="8.3" fill="#595959" textLength="15.50" lengthAdjust="spacingAndGlyphs">河南</text>
<rect x="43.70" y="310.80" width="4.60" height="4.60" fill="#7d60a0"/>
<text x="51.00" y="316.30" font-size="8.3" fill="#595959" textLength="15.50" lengthAdjust="spacingAndGlyphs">山东</text>
<rect x="15.00" y="327.60" width="4.60" height="4.60" fill="#46aac5"/>
<text x="22.30" y="333.10" font-size="8.3" fill="#595959" textLength="15.50" lengthAdjust="spacingAndGlyphs">广西</text>
<rect x="43.70" y="327.60" width="4.60" height="4.60" fill="#f69240"/>
<text x="51.00" y="333.10" font-size="8.3" fill="#595959" textLength="15.50" lengthAdjust="spacingAndGlyphs">江苏</text>
<rect x="15.00" y="344.40" width="4.60" height="4.60" fill="#4f81c9"/>
<text x="22.30" y="349.90" font-size="8.3" fill="#595959" textLength="15.50" lengthAdjust="spacingAndGlyphs">湖北</text>
<rect x="43.70" y="344.40" width="4.60" height="4.60" fill="#a5466c"/>
<text x="51.00" y="349.90" font-size="8.3" fill="#595959" textLength="15.50" lengthAdjust="spacingAndGlyphs">云南</text>
<rect x="15.00" y="361.20" width="4.60" height="4.60" fill="#d7c54e"/>
<text x="22.30" y="366.70" font-size="8.3" fill="#595959" textLength="15.50" lengthAdjust="spacingAndGlyphs">重庆</text>
<rect x="43.70" y="361.20" width="4.60" height="4.60" fill="#ac9ccc"/>
<text x="51.00" y="366.70" font-size="8.3" fill="#595959" textLength="15.50" lengthAdjust="spacingAndGlyphs">浙江</text>
<rect x="15.00" y="378.00" width="4.60" height="4.60" fill="#8fd0e3"/>
<text x="22.30" y="383.50" font-size="8.3" fill="#595959" textLength="15.50" lengthAdjust="spacingAndGlyphs">辽宁</text>
<rect x="43.70" y="378.00" width="4.60" height="4.60" fill="#c4600f"/>
<text x="51.00" y="383.50" font-size="8.3" fill="#595959" textLength="15.50" lengthAdjust="spacingAndGlyphs">广东</text>
<rect x="15.00" y="394.80" width="4.60" height="4.60" fill="#6690d0"/>
<text x="22.30" y="400.30" font-size="8.3" fill="#595959" textLength="15.50" lengthAdjust="spacingAndGlyphs">江西</text>
<rect x="43.70" y="394.80" width="4.60" height="4.60" fill="#d56a66"/>
<text x="51.00" y="400.30" font-size="8.3" fill="#595959" textLength="15.50" lengthAdjust="spacingAndGlyphs">贵州</text>
<rect x="15.00" y="411.60" width="4.60" height="4.60" fill="#acc96f"/>
<text x="22.30" y="417.10" font-size="8.3" fill="#595959" textLength="15.50" lengthAdjust="spacingAndGlyphs">上海</text>
<rect x="43.70" y="411.60" width="4.60" height="4.60" fill="#9483bd"/>
<text x="51.00" y="417.10" font-size="8.3" fill="#595959" textLength="15.50" lengthAdjust="spacingAndGlyphs">湖南</text>
<rect x="15.00" y="428.40" width="4.60" height="4.60" fill="#5bb8d0"/>
<text x="22.30" y="433.90" font-size="8.3" fill="#595959" textLength="15.50" lengthAdjust="spacingAndGlyphs">甘肃</text>
<text x="77.80" y="277.30" font-size="9.6" fill="#111" font-weight="bold" style="font-family:'Liberation Serif',serif" textLength="16.90" lengthAdjust="spacingAndGlyphs">2021</text>
<text x="94.70" y="277.30" font-size="9.6" fill="#111" font-weight="bold" textLength="9.37" lengthAdjust="spacingAndGlyphs">年</text>
<text x="104.06" y="277.30" font-size="9.6" fill="#111" font-weight="bold" style="font-family:'Liberation Serif',serif" textLength="4.22" lengthAdjust="spacingAndGlyphs">9</text>
<text x="108.29" y="277.30" font-size="9.6" fill="#111" font-weight="bold" textLength="112.41" lengthAdjust="spacingAndGlyphs">月中国钛白产量分地区占比</text>
<text x="210.75" y="368.30" font-size="7.8" fill="#404040" textLength="14.50" lengthAdjust="spacingAndGlyphs">四川</text>
<text x="218.00" y="376.80" font-size="7.2" fill="#404040" text-anchor="middle">24%</text>
<text x="182.25" y="420.80" font-size="7.8" fill="#404040" textLength="14.50" lengthAdjust="spacingAndGlyphs">安徽</text>
<text x="189.50" y="429.30" font-size="7.2" fill="#404040" text-anchor="middle">13%</text>
<text x="138.75" y="425.30" font-size="7.8" fill="#404040" textLength="14.50" lengthAdjust="spacingAndGlyphs">河南</text>
<text x="146.00" y="433.80" font-size="7.2" fill="#404040" text-anchor="middle">13%</text>
<text x="104.25" y="393.80" font-size="7.8" fill="#404040" textLength="14.50" lengthAdjust="spacingAndGlyphs">山东</text>
<text x="111.50" y="402.30" font-size="7.2" fill="#404040" text-anchor="middle">13%</text>
<text x="94.35" y="359.30" font-size="7.8" fill="#404040" textLength="14.50" lengthAdjust="spacingAndGlyphs">广西</text>
<text x="101.60" y="367.80" font-size="7.2" fill="#404040" text-anchor="middle">8%</text>
<text x="108.75" y="329.30" font-size="7.8" fill="#404040" textLength="14.50" lengthAdjust="spacingAndGlyphs">江苏</text>
<text x="116.00" y="337.80" font-size="7.2" fill="#404040" text-anchor="middle">6%</text>
<text x="123.15" y="310.40" font-size="7.8" fill="#404040" textLength="14.50" lengthAdjust="spacingAndGlyphs">湖北</text>
<text x="130.40" y="318.90" font-size="7.2" fill="#404040" text-anchor="middle">5%</text>
<text x="144.75" y="306.80" font-size="7.8" fill="#404040" textLength="14.50" lengthAdjust="spacingAndGlyphs">云南</text>
<text x="152.00" y="315.30" font-size="7.2" fill="#404040" text-anchor="middle">5%</text>
<text x="160.75" y="299.30" font-size="7.8" fill="#404040" textLength="14.50" lengthAdjust="spacingAndGlyphs">重庆</text>
<text x="168.00" y="307.80" font-size="7.2" fill="#404040" text-anchor="middle">3%</text>
<text x="174.15" y="299.30" font-size="7.8" fill="#404040" textLength="14.50" lengthAdjust="spacingAndGlyphs">浙江</text>
<text x="181.40" y="307.80" font-size="7.2" fill="#404040" text-anchor="middle">3%</text>
<text x="192.25" y="296.80" font-size="7.8" fill="#404040" textLength="14.50" lengthAdjust="spacingAndGlyphs">广东</text>
<text x="185.25" y="296.10" font-size="7.8" fill="#404040" textLength="14.50" lengthAdjust="spacingAndGlyphs">辽宁</text>
<text x="199.95" y="298.60" font-size="7.8" fill="#404040" textLength="14.50" lengthAdjust="spacingAndGlyphs">江西</text>
<text x="217.75" y="306.80" font-size="7.8" fill="#404040" textLength="14.50" lengthAdjust="spacingAndGlyphs">贵州</text>
<text x="191.70" y="306.80" font-size="7.2" fill="#404040" text-anchor="middle">2%</text>
<text x="198.30" y="309.30" font-size="7.2" fill="#404040" text-anchor="middle">2%</text>
<text x="212.10" y="309.30" font-size="7.2" fill="#404040" text-anchor="middle">1%</text>
<text x="224.20" y="315.30" font-size="7.2" fill="#404040" text-anchor="middle">1%</text>
<rect x="375.00" y="322.00" width="49.28" height="48.40" fill="#f3f3f5"/>
<path d="M378.52,344.00 Q400.52,320.24 422.52,344.00" fill="none" stroke="#dedee0" stroke-width="2.20"/>
<text x="379.40" y="356.32" font-size="17.6" fill="#e4e4e6" font-weight="bold" textLength="40.48" lengthAdjust="spacingAndGlyphs">TDD</text>
<text x="440.12" y="349.72" font-size="15.84" fill="#e2e2e4" font-weight="bold" textLength="80.96" lengthAdjust="spacingAndGlyphs">涂多多</text>
<text x="439.24" y="363.36" font-size="11.44" fill="#e6e6e8" font-weight="bold" textLength="83.60" lengthAdjust="spacingAndGlyphs">toodudu.com</text>
<rect x="335.66" y="332.57" width="4.40" height="72.93" fill="#4f81bd"/>
<g transform="rotate(-90 340.26 410.40)"><text x="305.76" y="410.40" font-size="7.4" fill="#404040" textLength="16.46" lengthAdjust="spacingAndGlyphs">2020</text><text x="322.23" y="410.40" font-size="7.4" fill="#404040" textLength="6.96" lengthAdjust="spacingAndGlyphs">年</text><text x="329.19" y="410.40" font-size="7.4" fill="#404040" textLength="4.12" lengthAdjust="spacingAndGlyphs">1</text><text x="333.30" y="410.40" font-size="7.4" fill="#404040" textLength="6.96" lengthAdjust="spacingAndGlyphs">月</text></g>
<rect x="346.79" y="335.96" width="4.40" height="69.54" fill="#4f81bd"/>
<g transform="rotate(-90 351.39 410.40)"><text x="316.89" y="410.40" font-size="7.4" fill="#404040" textLength="16.46" lengthAdjust="spacingAndGlyphs">2020</text><text x="333.35" y="410.40" font-size="7.4" fill="#404040" textLength="6.96" lengthAdjust="spacingAndGlyphs">年</text><text x="340.32" y="410.40" font-size="7.4" fill="#404040" textLength="4.12" lengthAdjust="spacingAndGlyphs">2</text><text x="344.43" y="410.40" font-size="7.4" fill="#404040" textLength="6.96" lengthAdjust="spacingAndGlyphs">月</text></g>
<rect x="357.92" y="343.17" width="4.40" height="62.33" fill="#4f81bd"/>
<g transform="rotate(-90 362.52 410.40)"><text x="328.02" y="410.40" font-size="7.4" fill="#404040" textLength="16.46" lengthAdjust="spacingAndGlyphs">2020</text><text x="344.48" y="410.40" font-size="7.4" fill="#404040" textLength="6.96" lengthAdjust="spacingAndGlyphs">年</text><text x="351.44" y="410.40" font-size="7.4" fill="#404040" textLength="4.12" lengthAdjust="spacingAndGlyphs">3</text><text x="355.56" y="410.40" font-size="7.4" fill="#404040" textLength="6.96" lengthAdjust="spacingAndGlyphs">月</text></g>
<rect x="369.05" y="314.34" width="4.40" height="91.16" fill="#4f81bd"/>
<g transform="rotate(-90 373.65 410.40)"><text x="339.15" y="410.40" font-size="7.4" fill="#404040" textLength="16.46" lengthAdjust="spacingAndGlyphs">2020</text><text x="355.61" y="410.40" font-size="7.4" fill="#404040" textLength="6.96" lengthAdjust="spacingAndGlyphs">年</text><text x="362.57" y="410.40" font-size="7.4" fill="#404040" textLength="4.12" lengthAdjust="spacingAndGlyphs">4</text><text x="366.69" y="410.40" font-size="7.4" fill="#404040" textLength="6.96" lengthAdjust="spacingAndGlyphs">月</text></g>
<rect x="380.18" y="313.49" width="4.40" height="92.01" fill="#4f81bd"/>
<g transform="rotate(-90 384.78 410.40)"><text x="350.28" y="410.40" font-size="7.4" fill="#404040" textLength="16.46" lengthAdjust="spacingAndGlyphs">2020</text><text x="366.74" y="410.40" font-size="7.4" fill="#404040" textLength="6.96" lengthAdjust="spacingAndGlyphs">年</text><text x="373.70" y="410.40" font-size="7.4" fill="#404040" textLength="4.12" lengthAdjust="spacingAndGlyphs">5</text><text x="377.82" y="410.40" font-size="7.4" fill="#404040" textLength="6.96" lengthAdjust="spacingAndGlyphs">月</text></g>
<rect x="391.31" y="313.07" width="4.40" height="92.43" fill="#4f81bd"/>
<g transform="rotate(-90 395.91 410.40)"><text x="361.41" y="410.40" font-size="7.4" fill="#404040" textLength="16.46" lengthAdjust="spacingAndGlyphs">2020</text><text x="377.87" y="410.40" font-size="7.4" fill="#404040" textLength="6.96" lengthAdjust="spacingAndGlyphs">年</text><text x="384.83" y="410.40" font-size="7.4" fill="#404040" textLength="4.12" lengthAdjust="spacingAndGlyphs">6</text><text x="388.95" y="410.40" font-size="7.4" fill="#404040" textLength="6.96" lengthAdjust="spacingAndGlyphs">月</text></g>
<rect x="402.44" y="313.49" width="4.40" height="92.01" fill="#4f81bd"/>
<g transform="rotate(-90 407.04 410.40)"><text x="372.54" y="410.40" font-size="7.4" fill="#404040" textLength="16.46" lengthAdjust="spacingAndGlyphs">2020</text><text x="389.00" y="410.40" font-size="7.4" fill="#404040" textLength="6.96" lengthAdjust="spacingAndGlyphs">年</text><text x="395.96" y="410.40" font-size="7.4" fill="#404040" textLength="4.12" lengthAdjust="spacingAndGlyphs">7</text><text x="400.07" y="410.40" font-size="7.4" fill="#404040" textLength="6.96" lengthAdjust="spacingAndGlyphs">月</text></g>
<rect x="413.56" y="320.70" width="4.40" height="84.80" fill="#4f81bd"/>
<g transform="rotate(-90 418.16 410.40)"><text x="383.66" y="410.40" font-size="7.4" fill="#404040" textLength="16.46" lengthAdjust="spacingAndGlyphs">2020</text><text x="400.13" y="410.40" font-size="7.4" fill="#404040" textLength="6.96" lengthAdjust="spacingAndGlyphs">年</text><text x="407.09" y="410.40" font-size="7.4" fill="#404040" textLength="4.12" lengthAdjust="spacingAndGlyphs">8</text><text x="411.20" y="410.40" font-size="7.4" fill="#404040" textLength="6.96" lengthAdjust="spacingAndGlyphs">月</text></g>
<rect x="424.69" y="317.73" width="4.40" height="87.77" fill="#4f81bd"/>
<g transform="rotate(-90 429.29 410.40)"><text x="394.79" y="410.40" font-size="7.4" fill="#404040" textLength="16.46" lengthAdjust="spacingAndGlyphs">2020</text><text x="411.25" y="410.40" font-size="7.4" fill="#404040" textLength="6.96" lengthAdjust="spacingAndGlyphs">年</text><text x="418.22" y="410.40" font-size="7.4" fill="#404040" textLength="4.12" lengthAdjust="spacingAndGlyphs">9</text><text x="422.33" y="410.40" font-size="7.4" fill="#404040" textLength="6.96" lengthAdjust="spacingAndGlyphs">月</text></g>
<rect x="435.82" y="306.71" width="4.40" height="98.79" fill="#4f81bd"/>
<g transform="rotate(-90 440.42 410.40)"><text x="401.92" y="410.40" font-size="7.4" fill="#404040" textLength="16.46" lengthAdjust="spacingAndGlyphs">2020</text><text x="418.38" y="410.40" font-size="7.4" fill="#404040" textLength="6.90" lengthAdjust="spacingAndGlyphs">年</text><text x="425.29" y="410.40" font-size="7.4" fill="#404040" textLength="8.23" lengthAdjust="spacingAndGlyphs">10</text><text x="433.52" y="410.40" font-size="7.4" fill="#404040" textLength="6.90" lengthAdjust="spacingAndGlyphs">月</text></g>
<rect x="446.95" y="308.40" width="4.40" height="97.10" fill="#4f81bd"/>
<g transform="rotate(-90 451.55 410.40)"><text x="413.05" y="410.40" font-size="7.4" fill="#404040" textLength="16.46" lengthAdjust="spacingAndGlyphs">2020</text><text x="429.51" y="410.40" font-size="7.4" fill="#404040" textLength="6.90" lengthAdjust="spacingAndGlyphs">年</text><text x="436.42" y="410.40" font-size="7.4" fill="#404040" textLength="8.23" lengthAdjust="spacingAndGlyphs">11</text><text x="444.65" y="410.40" font-size="7.4" fill="#404040" textLength="6.90" lengthAdjust="spacingAndGlyphs">月</text></g>
<rect x="458.08" y="307.56" width="4.40" height="97.94" fill="#4f81bd"/>
<g transform="rotate(-90 462.68 410.40)"><text x="424.18" y="410.40" font-size="7.4" fill="#404040" textLength="16.46" lengthAdjust="spacingAndGlyphs">2020</text><text x="440.64" y="410.40" font-size="7.4" fill="#404040" textLength="6.90" lengthAdjust="spacingAndGlyphs">年</text><text x="447.54" y="410.40" font-size="7.4" fill="#404040" textLength="8.23" lengthAdjust="spacingAndGlyphs">12</text><text x="455.78" y="410.40" font-size="7.4" fill="#404040" textLength="6.90" lengthAdjust="spacingAndGlyphs">月</text></g>
<rect x="469.21" y="313.49" width="4.40" height="92.01" fill="#4f81bd"/>
<g transform="rotate(-90 473.81 410.40)"><text x="439.31" y="410.40" font-size="7.4" fill="#404040" textLength="16.46" lengthAdjust="spacingAndGlyphs">2021</text><text x="455.77" y="410.40" font-size="7.4" fill="#404040" textLength="6.96" lengthAdjust="spacingAndGlyphs">年</text><text x="462.73" y="410.40" font-size="7.4" fill="#404040" textLength="4.12" lengthAdjust="spacingAndGlyphs">1</text><text x="466.85" y="410.40" font-size="7.4" fill="#404040" textLength="6.96" lengthAdjust="spacingAndGlyphs">月</text></g>
<rect x="480.34" y="316.46" width="4.40" height="89.04" fill="#4f81bd"/>
<g transform="rotate(-90 484.94 410.40)"><text x="450.44" y="410.40" font-size="7.4" fill="#404040" textLength="16.46" lengthAdjust="spacingAndGlyphs">2021</text><text x="466.90" y="410.40" font-size="7.4" fill="#404040" textLength="6.96" lengthAdjust="spacingAndGlyphs">年</text><text x="473.86" y="410.40" font-size="7.4" fill="#404040" textLength="4.12" lengthAdjust="spacingAndGlyphs">2</text><text x="477.97" y="410.40" font-size="7.4" fill="#404040" textLength="6.96" lengthAdjust="spacingAndGlyphs">月</text></g>
<rect x="491.46" y="313.49" width="4.40" height="92.01" fill="#4f81bd"/>
<g transform="rotate(-90 496.06 410.40)"><text x="461.56" y="410.40" font-size="7.4" fill="#404040" textLength="16.46" lengthAdjust="spacingAndGlyphs">2021</text><text x="478.03" y="410.40" font-size="7.4" fill="#404040" textLength="6.96" lengthAdjust="spacingAndGlyphs">年</text><text x="484.99" y="410.40" font-size="7.4" fill="#404040" textLength="4.12" lengthAdjust="spacingAndGlyphs">3</text><text x="489.10" y="410.40" font-size="7.4" fill="#404040" textLength="6.96" lengthAdjust="spacingAndGlyphs">月</text></g>
<rect x="502.59" y="304.80" width="4.40" height="100.70" fill="#4f81bd"/>
<g transform="rotate(-90 507.19 410.40)"><text x="472.69" y="410.40" font-size="7.4" fill="#404040" textLength="16.46" lengthAdjust="spacingAndGlyphs">2021</text><text x="489.15" y="410.40" font-size="7.4" fill="#404040" textLength="6.96" lengthAdjust="spacingAndGlyphs">年</text><text x="496.12" y="410.40" font-size="7.4" fill="#404040" textLength="4.12" lengthAdjust="spacingAndGlyphs">4</text><text x="500.23" y="410.40" font-size="7.4" fill="#404040" textLength="6.96" lengthAdjust="spacingAndGlyphs">月</text></g>
<rect x="513.72" y="302.47" width="4.40" height="103.03" fill="#4f81bd"/>
<g transform="rotate(-90 518.32 410.40)"><text x="483.82" y="410.40" font-size="7.4" fill="#404040" textLength="16.46" lengthAdjust="spacingAndGlyphs">2021</text><text x="500.28" y="410.40" font-size="7.4" fill="#404040" textLength="6.96" lengthAdjust="spacingAndGlyphs">年</text><text x="507.24" y="410.40" font-size="7.4" fill="#404040" textLength="4.12" lengthAdjust="spacingAndGlyphs">5</text><text x="511.36" y="410.40" font-size="7.4" fill="#404040" textLength="6.96" lengthAdjust="spacingAndGlyphs">月</text></g>
<rect x="524.85" y="304.80" width="4.40" height="100.70" fill="#4f81bd"/>
<g transform="rotate(-90 529.45 410.40)"><text x="494.95" y="410.40" font-size="7.4" fill="#404040" textLength="16.46" lengthAdjust="spacingAndGlyphs">2021</text><text x="511.41" y="410.40" font-size="7.4" fill="#404040" textLength="6.96" lengthAdjust="spacingAndGlyphs">年</text><text x="518.37" y="410.40" font-size="7.4" fill="#404040" textLength="4.12" lengthAdjust="spacingAndGlyphs">6</text><text x="522.49" y="410.40" font-size="7.4" fill="#404040" textLength="6.96" lengthAdjust="spacingAndGlyphs">月</text></g>
<rect x="535.98" y="308.83" width="4.40" height="96.67" fill="#4f81bd"/>
<g transform="rotate(-90 540.58 410.40)"><text x="506.08" y="410.40" font-size="7.4" fill="#404040" textLength="16.46" lengthAdjust="spacingAndGlyphs">2021</text><text x="522.54" y="410.40" font-size="7.4" fill="#404040" textLength="6.96" lengthAdjust="spacingAndGlyphs">年</text><text x="529.50" y="410.40" font-size="7.4" fill="#404040" textLength="4.12" lengthAdjust="spacingAndGlyphs">7</text><text x="533.62" y="410.40" font-size="7.4" fill="#404040" textLength="6.96" lengthAdjust="spacingAndGlyphs">月</text></g>
<rect x="547.11" y="312.22" width="4.40" height="93.28" fill="#4f81bd"/>
<g transform="rotate(-90 551.71 410.40)"><text x="517.21" y="410.40" font-size="7.4" fill="#404040" textLength="16.46" lengthAdjust="spacingAndGlyphs">2021</text><text x="533.67" y="410.40" font-size="7.4" fill="#404040" textLength="6.96" lengthAdjust="spacingAndGlyphs">年</text><text x="540.63" y="410.40" font-size="7.4" fill="#404040" textLength="4.12" lengthAdjust="spacingAndGlyphs">8</text><text x="544.75" y="410.40" font-size="7.4" fill="#404040" textLength="6.96" lengthAdjust="spacingAndGlyphs">月</text></g>
<rect x="558.24" y="317.31" width="4.40" height="88.19" fill="#4f81bd"/>
<g transform="rotate(-90 562.84 410.40)"><text x="528.34" y="410.40" font-size="7.4" fill="#404040" textLength="16.46" lengthAdjust="spacingAndGlyphs">2021</text><text x="544.80" y="410.40" font-size="7.4" fill="#404040" textLength="6.96" lengthAdjust="spacingAndGlyphs">年</text><text x="551.76" y="410.40" font-size="7.4" fill="#404040" textLength="4.12" lengthAdjust="spacingAndGlyphs">9</text><text x="555.87" y="410.40" font-size="7.4" fill="#404040" textLength="6.96" lengthAdjust="spacingAndGlyphs">月</text></g>
<line x1="332.30" y1="278.30" x2="332.30" y2="405.50" stroke="#a0a0a0" stroke-width="1"/>
<line x1="566.00" y1="278.30" x2="566.00" y2="405.50" stroke="#a0a0a0" stroke-width="1"/>
<line x1="332.30" y1="405.50" x2="566.00" y2="405.50" stroke="#a0a0a0" stroke-width="1"/>
<line x1="332.30" y1="405.50" x2="335.30" y2="405.50" stroke="#a0a0a0" stroke-width="1"/>
<text x="322.41" y="408.00" font-size="7.0" fill="#404040" textLength="3.39" lengthAdjust="spacingAndGlyphs">0</text>
<line x1="332.30" y1="384.30" x2="335.30" y2="384.30" stroke="#a0a0a0" stroke-width="1"/>
<text x="322.41" y="386.80" font-size="7.0" fill="#404040" textLength="3.39" lengthAdjust="spacingAndGlyphs">5</text>
<line x1="332.30" y1="363.10" x2="335.30" y2="363.10" stroke="#a0a0a0" stroke-width="1"/>
<text x="319.03" y="365.60" font-size="7.0" fill="#404040" textLength="6.77" lengthAdjust="spacingAndGlyphs">10</text>
<line x1="332.30" y1="341.90" x2="335.30" y2="341.90" stroke="#a0a0a0" stroke-width="1"/>
<text x="319.03" y="344.40" font-size="7.0" fill="#404040" textLength="6.77" lengthAdjust="spacingAndGlyphs">15</text>
<line x1="332.30" y1="320.70" x2="335.30" y2="320.70" stroke="#a0a0a0" stroke-width="1"/>
<text x="319.03" y="323.20" font-size="7.0" fill="#404040" textLength="6.77" lengthAdjust="spacingAndGlyphs">20</text>
<line x1="332.30" y1="299.50" x2="335.30" y2="299.50" stroke="#a0a0a0" stroke-width="1"/>
<text x="319.03" y="302.00" font-size="7.0" fill="#404040" textLength="6.77" lengthAdjust="spacingAndGlyphs">25</text>
<line x1="332.30" y1="278.30" x2="335.30" y2="278.30" stroke="#a0a0a0" stroke-width="1"/>
<text x="319.03" y="280.80" font-size="7.0" fill="#404040" textLength="6.77" lengthAdjust="spacingAndGlyphs">30</text>
<line x1="563.00" y1="405.50" x2="566.00" y2="405.50" stroke="#a0a0a0" stroke-width="1"/>
<text x="571.80" y="408.40" font-size="8.0" fill="#404040" textLength="15.50" lengthAdjust="spacingAndGlyphs">-20%</text>
<line x1="563.00" y1="387.33" x2="566.00" y2="387.33" stroke="#a0a0a0" stroke-width="1"/>
<text x="571.80" y="390.23" font-size="8.0" fill="#404040" textLength="15.50" lengthAdjust="spacingAndGlyphs">-10%</text>
<line x1="563.00" y1="369.16" x2="566.00" y2="369.16" stroke="#a0a0a0" stroke-width="1"/>
<text x="571.80" y="372.06" font-size="8.0" fill="#404040" textLength="8.90" lengthAdjust="spacingAndGlyphs">0%</text>
<line x1="563.00" y1="350.99" x2="566.00" y2="350.99" stroke="#a0a0a0" stroke-width="1"/>
<text x="571.80" y="353.89" font-size="8.0" fill="#404040" textLength="12.90" lengthAdjust="spacingAndGlyphs">10%</text>
<line x1="563.00" y1="332.81" x2="566.00" y2="332.81" stroke="#a0a0a0" stroke-width="1"/>
<text x="571.80" y="335.71" font-size="8.0" fill="#404040" textLength="12.90" lengthAdjust="spacingAndGlyphs">20%</text>
<line x1="563.00" y1="314.64" x2="566.00" y2="314.64" stroke="#a0a0a0" stroke-width="1"/>
<text x="571.80" y="317.54" font-size="8.0" fill="#404040" textLength="12.90" lengthAdjust="spacingAndGlyphs">30%</text>
<line x1="563.00" y1="296.47" x2="566.00" y2="296.47" stroke="#a0a0a0" stroke-width="1"/>
<text x="571.80" y="299.37" font-size="8.0" fill="#404040" textLength="12.90" lengthAdjust="spacingAndGlyphs">40%</text>
<line x1="563.00" y1="278.30" x2="566.00" y2="278.30" stroke="#a0a0a0" stroke-width="1"/>
<text x="571.80" y="281.20" font-size="8.0" fill="#404040" textLength="12.90" lengthAdjust="spacingAndGlyphs">50%</text>
<line x1="332.30" y1="402.50" x2="332.30" y2="405.50" stroke="#b8b8b8" stroke-width="0.8"/>
<line x1="343.43" y1="402.50" x2="343.43" y2="405.50" stroke="#b8b8b8" stroke-width="0.8"/>
<line x1="354.56" y1="402.50" x2="354.56" y2="405.50" stroke="#b8b8b8" stroke-width="0.8"/>
<line x1="365.69" y1="402.50" x2="365.69" y2="405.50" stroke="#b8b8b8" stroke-width="0.8"/>
<line x1="376.81" y1="402.50" x2="376.81" y2="405.50" stroke="#b8b8b8" stroke-width="0.8"/>
<line x1="387.94" y1="402.50" x2="387.94" y2="405.50" stroke="#b8b8b8" stroke-width="0.8"/>
<line x1="399.07" y1="402.50" x2="399.07" y2="405.50" stroke="#b8b8b8" stroke-width="0.8"/>
<line x1="410.20" y1="402.50" x2="410.20" y2="405.50" stroke="#b8b8b8" stroke-width="0.8"/>
<line x1="421.33" y1="402.50" x2="421.33" y2="405.50" stroke="#b8b8b8" stroke-width="0.8"/>
<line x1="432.46" y1="402.50" x2="432.46" y2="405.50" stroke="#b8b8b8" stroke-width="0.8"/>
<line x1="443.59" y1="402.50" x2="443.59" y2="405.50" stroke="#b8b8b8" stroke-width="0.8"/>
<line x1="454.71" y1="402.50" x2="454.71" y2="405.50" stroke="#b8b8b8" stroke-width="0.8"/>
<line x1="465.84" y1="402.50" x2="465.84" y2="405.50" stroke="#b8b8b8" stroke-width="0.8"/>
<line x1="476.97" y1="402.50" x2="476.97" y2="405.50" stroke="#b8b8b8" stroke-width="0.8"/>
<line x1="488.10" y1="402.50" x2="488.10" y2="405.50" stroke="#b8b8b8" stroke-width="0.8"/>
<line x1="499.23" y1="402.50" x2="499.23" y2="405.50" stroke="#b8b8b8" stroke-width="0.8"/>
<line x1="510.36" y1="402.50" x2="510.36" y2="405.50" stroke="#b8b8b8" stroke-width="0.8"/>
<line x1="521.49" y1="402.50" x2="521.49" y2="405.50" stroke="#b8b8b8" stroke-width="0.8"/>
<line x1="532.61" y1="402.50" x2="532.61" y2="405.50" stroke="#b8b8b8" stroke-width="0.8"/>
<line x1="543.74" y1="402.50" x2="543.74" y2="405.50" stroke="#b8b8b8" stroke-width="0.8"/>
<line x1="554.87" y1="402.50" x2="554.87" y2="405.50" stroke="#b8b8b8" stroke-width="0.8"/>
<line x1="566.00" y1="402.50" x2="566.00" y2="405.50" stroke="#b8b8b8" stroke-width="0.8"/>
<clipPath id="c4clip"><rect x="332.30" y="270" width="233.70" height="140"/></clipPath>
<path d="M326.74,388.06 C330.45,389.02 334.15,390.96 337.86,390.96 C341.57,390.96 345.28,375.70 348.99,375.70 C352.70,375.70 356.41,387.69 360.12,387.69 C363.83,387.69 367.54,283.39 371.25,283.39 C374.96,283.39 378.67,367.70 382.38,367.70 C386.09,367.70 389.80,366.61 393.51,366.61 C397.22,366.61 400.93,366.63 404.64,368.61 C408.35,370.59 412.05,382.42 415.76,382.42 C419.47,382.42 423.18,369.01 426.89,362.80 C430.60,356.59 434.31,345.17 438.02,345.17 C441.73,345.17 445.44,370.61 449.15,370.61 C452.86,370.61 456.57,366.16 460.28,366.16 C463.99,366.16 467.70,379.51 471.41,379.51 C475.12,379.51 478.83,378.61 482.54,375.88 C486.25,373.15 489.95,367.04 493.66,363.16 C497.37,359.28 501.08,352.62 504.79,352.62 C508.50,352.62 512.21,360.68 515.92,363.89 C519.63,367.10 523.34,370.07 527.05,371.88 C530.76,373.70 534.47,374.03 538.18,374.79 C541.89,375.55 545.60,376.05 549.31,376.43 C553.02,376.80 556.73,376.85 560.44,377.06" fill="none" stroke="#f79a4c" stroke-width="1.55" clip-path="url(#c4clip)"/>
<text x="370.70" y="276.70" font-size="9.3" fill="#111" font-weight="bold" style="font-family:'Liberation Serif',serif" textLength="40.30" lengthAdjust="spacingAndGlyphs">2020-2021</text>
<text x="411.00" y="276.70" font-size="9.3" fill="#111" font-weight="bold" textLength="115.40" lengthAdjust="spacingAndGlyphs">年中国钛白粉表观消费量对比</text>
<text x="335.40" y="286.30" font-size="9.0" fill="#404040" textLength="15.40" lengthAdjust="spacingAndGlyphs">万吨</text>
<rect x="442.70" y="290.80" width="16.00" height="3.80" fill="#4f81bd"/>
<text x="461.30" y="295.40" font-size="8.4" fill="#404040" textLength="40.00" lengthAdjust="spacingAndGlyphs">表观消费量</text>
<line x1="517.30" y1="292.00" x2="533.30" y2="292.00" stroke="#f79646" stroke-width="1.6"/>
<text x="536.50" y="295.40" font-size="8.4" fill="#404040" textLength="24.00" lengthAdjust="spacingAndGlyphs">增长率</text>
<path d="M89.60,594.50 Q112.10,570.20 134.60,594.50" fill="none" stroke="#dedee0" stroke-width="2.25"/>
<text x="90.50" y="607.10" font-size="18.0" fill="#e4e4e6" font-weight="bold" textLength="41.40" lengthAdjust="spacingAndGlyphs">TDD</text>
<text x="152.60" y="600.35" font-size="16.2" fill="#e2e2e4" font-weight="bold" textLength="82.80" lengthAdjust="spacingAndGlyphs">涂多多</text>
<text x="151.70" y="614.30" font-size="11.7" fill="#e6e6e8" font-weight="bold" textLength="85.50" lengthAdjust="spacingAndGlyphs">toodudu.com</text>
<rect x="38.35" y="582.94" width="7.79" height="87.56" fill="#604a7b"/>
<rect x="46.13" y="547.92" width="7.79" height="122.58" fill="#e46c0a"/>
<text x="40.53" y="683.30" font-size="7.9" fill="#404040" textLength="4.39" lengthAdjust="spacingAndGlyphs">1</text>
<text x="44.93" y="683.30" font-size="7.9" fill="#404040" textLength="6.81" lengthAdjust="spacingAndGlyphs">月</text>
<rect x="57.81" y="580.72" width="7.79" height="89.78" fill="#604a7b"/>
<rect x="65.60" y="547.92" width="7.79" height="122.58" fill="#e46c0a"/>
<text x="60.00" y="683.30" font-size="7.9" fill="#404040" textLength="4.39" lengthAdjust="spacingAndGlyphs">2</text>
<text x="64.39" y="683.30" font-size="7.9" fill="#404040" textLength="6.81" lengthAdjust="spacingAndGlyphs">月</text>
<rect x="77.28" y="576.53" width="7.79" height="93.97" fill="#604a7b"/>
<rect x="85.07" y="545.46" width="7.79" height="125.04" fill="#e46c0a"/>
<text x="79.47" y="683.30" font-size="7.9" fill="#404040" textLength="4.39" lengthAdjust="spacingAndGlyphs">3</text>
<text x="83.86" y="683.30" font-size="7.9" fill="#404040" textLength="6.81" lengthAdjust="spacingAndGlyphs">月</text>
<rect x="96.75" y="576.53" width="7.79" height="93.97" fill="#604a7b"/>
<rect x="104.53" y="543.97" width="7.79" height="126.53" fill="#e46c0a"/>
<text x="98.93" y="683.30" font-size="7.9" fill="#404040" textLength="4.39" lengthAdjust="spacingAndGlyphs">4</text>
<text x="103.33" y="683.30" font-size="7.9" fill="#404040" textLength="6.81" lengthAdjust="spacingAndGlyphs">月</text>
<rect x="116.21" y="581.21" width="7.79" height="89.29" fill="#604a7b"/>
<rect x="124.00" y="540.37" width="7.79" height="130.13" fill="#e46c0a"/>
<text x="118.40" y="683.30" font-size="7.9" fill="#404040" textLength="4.39" lengthAdjust="spacingAndGlyphs">5</text>
<text x="122.79" y="683.30" font-size="7.9" fill="#404040" textLength="6.81" lengthAdjust="spacingAndGlyphs">月</text>
<rect x="135.68" y="587.39" width="7.79" height="83.11" fill="#604a7b"/>
<rect x="143.47" y="542.20" width="7.79" height="128.30" fill="#e46c0a"/>
<text x="137.87" y="683.30" font-size="7.9" fill="#404040" textLength="4.39" lengthAdjust="spacingAndGlyphs">6</text>
<text x="142.26" y="683.30" font-size="7.9" fill="#404040" textLength="6.81" lengthAdjust="spacingAndGlyphs">月</text>
<rect x="155.15" y="580.73" width="7.79" height="89.77" fill="#604a7b"/>
<rect x="162.93" y="539.47" width="7.79" height="131.03" fill="#e46c0a"/>
<text x="157.33" y="683.30" font-size="7.9" fill="#404040" textLength="4.39" lengthAdjust="spacingAndGlyphs">7</text>
<text x="161.73" y="683.30" font-size="7.9" fill="#404040" textLength="6.81" lengthAdjust="spacingAndGlyphs">月</text>
<rect x="174.61" y="564.98" width="7.79" height="105.52" fill="#604a7b"/>
<rect x="182.40" y="543.73" width="7.79" height="126.77" fill="#e46c0a"/>
<text x="176.80" y="683.30" font-size="7.9" fill="#404040" textLength="4.39" lengthAdjust="spacingAndGlyphs">8</text>
<text x="181.19" y="683.30" font-size="7.9" fill="#404040" textLength="6.81" lengthAdjust="spacingAndGlyphs">月</text>
<rect x="194.08" y="559.47" width="7.79" height="111.03" fill="#604a7b"/>
<rect x="201.87" y="549.47" width="7.79" height="121.03" fill="#e46c0a"/>
<text x="196.27" y="683.30" font-size="7.9" fill="#404040" textLength="4.39" lengthAdjust="spacingAndGlyphs">9</text>
<text x="200.66" y="683.30" font-size="7.9" fill="#404040" textLength="6.81" lengthAdjust="spacingAndGlyphs">月</text>
<rect x="213.55" y="560.73" width="7.79" height="109.77" fill="#604a7b"/>
<text x="213.58" y="683.30" font-size="7.9" fill="#404040" textLength="8.79" lengthAdjust="spacingAndGlyphs">10</text>
<text x="222.37" y="683.30" font-size="7.9" fill="#404040" textLength="6.71" lengthAdjust="spacingAndGlyphs">月</text>
<rect x="233.01" y="557.98" width="7.79" height="112.52" fill="#604a7b"/>
<text x="233.05" y="683.30" font-size="7.9" fill="#404040" textLength="8.79" lengthAdjust="spacingAndGlyphs">11</text>
<text x="241.84" y="683.30" font-size="7.9" fill="#404040" textLength="6.71" lengthAdjust="spacingAndGlyphs">月</text>
<rect x="252.48" y="551.22" width="7.79" height="119.28" fill="#604a7b"/>
<text x="252.52" y="683.30" font-size="7.9" fill="#404040" textLength="8.79" lengthAdjust="spacingAndGlyphs">12</text>
<text x="261.30" y="683.30" font-size="7.9" fill="#404040" textLength="6.71" lengthAdjust="spacingAndGlyphs">月</text>
<line x1="36.40" y1="523.75" x2="36.40" y2="670.50" stroke="#a0a0a0" stroke-width="1"/>
<line x1="270.00" y1="523.75" x2="270.00" y2="670.50" stroke="#a0a0a0" stroke-width="1"/>
<line x1="36.40" y1="670.50" x2="270.00" y2="670.50" stroke="#a0a0a0" stroke-width="1"/>
<line x1="36.40" y1="670.50" x2="38.90" y2="670.50" stroke="#a0a0a0" stroke-width="1"/>
<text x="26.55" y="672.60" font-size="7.5" fill="#404040" textLength="3.85" lengthAdjust="spacingAndGlyphs">0</text>
<line x1="36.40" y1="649.54" x2="38.90" y2="649.54" stroke="#a0a0a0" stroke-width="1"/>
<text x="15.00" y="651.64" font-size="7.5" fill="#404040" textLength="15.40" lengthAdjust="spacingAndGlyphs">2000</text>
<line x1="36.40" y1="628.57" x2="38.90" y2="628.57" stroke="#a0a0a0" stroke-width="1"/>
<text x="15.00" y="630.67" font-size="7.5" fill="#404040" textLength="15.40" lengthAdjust="spacingAndGlyphs">4000</text>
<line x1="36.40" y1="607.61" x2="38.90" y2="607.61" stroke="#a0a0a0" stroke-width="1"/>
<text x="15.00" y="609.71" font-size="7.5" fill="#404040" textLength="15.40" lengthAdjust="spacingAndGlyphs">6000</text>
<line x1="36.40" y1="586.64" x2="38.90" y2="586.64" stroke="#a0a0a0" stroke-width="1"/>
<text x="15.00" y="588.74" font-size="7.5" fill="#404040" textLength="15.40" lengthAdjust="spacingAndGlyphs">8000</text>
<line x1="36.40" y1="565.68" x2="38.90" y2="565.68" stroke="#a0a0a0" stroke-width="1"/>
<text x="11.15" y="567.78" font-size="7.5" fill="#404040" textLength="19.25" lengthAdjust="spacingAndGlyphs">10000</text>
<line x1="36.40" y1="544.71" x2="38.90" y2="544.71" stroke="#a0a0a0" stroke-width="1"/>
<text x="11.15" y="546.81" font-size="7.5" fill="#404040" textLength="19.25" lengthAdjust="spacingAndGlyphs">12000</text>
<line x1="36.40" y1="523.75" x2="38.90" y2="523.75" stroke="#a0a0a0" stroke-width="1"/>
<text x="11.15" y="525.85" font-size="7.5" fill="#404040" textLength="19.25" lengthAdjust="spacingAndGlyphs">14000</text>
<line x1="267.50" y1="670.50" x2="270.00" y2="670.50" stroke="#a0a0a0" stroke-width="1"/>
<text x="274.80" y="673.40" font-size="7.8" fill="#404040" textLength="7.00" lengthAdjust="spacingAndGlyphs">0%</text>
<line x1="267.50" y1="646.04" x2="270.00" y2="646.04" stroke="#a0a0a0" stroke-width="1"/>
<text x="274.80" y="648.94" font-size="7.8" fill="#404040" textLength="11.00" lengthAdjust="spacingAndGlyphs">10%</text>
<line x1="267.50" y1="621.58" x2="270.00" y2="621.58" stroke="#a0a0a0" stroke-width="1"/>
<text x="274.80" y="624.48" font-size="7.8" fill="#404040" textLength="11.00" lengthAdjust="spacingAndGlyphs">20%</text>
<line x1="267.50" y1="597.12" x2="270.00" y2="597.12" stroke="#a0a0a0" stroke-width="1"/>
<text x="274.80" y="600.02" font-size="7.8" fill="#404040" textLength="11.00" lengthAdjust="spacingAndGlyphs">30%</text>
<line x1="267.50" y1="572.67" x2="270.00" y2="572.67" stroke="#a0a0a0" stroke-width="1"/>
<text x="274.80" y="575.57" font-size="7.8" fill="#404040" textLength="11.00" lengthAdjust="spacingAndGlyphs">40%</text>
<line x1="267.50" y1="548.21" x2="270.00" y2="548.21" stroke="#a0a0a0" stroke-width="1"/>
<text x="274.80" y="551.11" font-size="7.8" fill="#404040" textLength="11.00" lengthAdjust="spacingAndGlyphs">50%</text>
<line x1="267.50" y1="523.75" x2="270.00" y2="523.75" stroke="#a0a0a0" stroke-width="1"/>
<text x="274.80" y="526.65" font-size="7.8" fill="#404040" textLength="11.00" lengthAdjust="spacingAndGlyphs">60%</text>
<line x1="36.40" y1="668.00" x2="36.40" y2="670.50" stroke="#b8b8b8" stroke-width="0.8"/>
<line x1="55.87" y1="668.00" x2="55.87" y2="670.50" stroke="#b8b8b8" stroke-width="0.8"/>
<line x1="75.33" y1="668.00" x2="75.33" y2="670.50" stroke="#b8b8b8" stroke-width="0.8"/>
<line x1="94.80" y1="668.00" x2="94.80" y2="670.50" stroke="#b8b8b8" stroke-width="0.8"/>
<line x1="114.27" y1="668.00" x2="114.27" y2="670.50" stroke="#b8b8b8" stroke-width="0.8"/>
<line x1="133.73" y1="668.00" x2="133.73" y2="670.50" stroke="#b8b8b8" stroke-width="0.8"/>
<line x1="153.20" y1="668.00" x2="153.20" y2="670.50" stroke="#b8b8b8" stroke-width="0.8"/>
<line x1="172.67" y1="668.00" x2="172.67" y2="670.50" stroke="#b8b8b8" stroke-width="0.8"/>
<line x1="192.13" y1="668.00" x2="192.13" y2="670.50" stroke="#b8b8b8" stroke-width="0.8"/>
<line x1="211.60" y1="668.00" x2="211.60" y2="670.50" stroke="#b8b8b8" stroke-width="0.8"/>
<line x1="231.07" y1="668.00" x2="231.07" y2="670.50" stroke="#b8b8b8" stroke-width="0.8"/>
<line x1="250.53" y1="668.00" x2="250.53" y2="670.50" stroke="#b8b8b8" stroke-width="0.8"/>
<line x1="270.00" y1="668.00" x2="270.00" y2="670.50" stroke="#b8b8b8" stroke-width="0.8"/>
<polyline points="46.13,572.18 65.60,578.78 85.07,589.30 104.53,584.41 124.00,559.70 143.47,535.25 162.93,559.21 182.40,622.56 201.87,649.96" fill="none" stroke="#ffc000" stroke-width="2" stroke-linejoin="round"/>
<path d="M46.13,569.68 L48.63,574.68 L43.63,574.68 Z" fill="#7b5fa0"/>
<path d="M65.60,576.28 L68.10,581.28 L63.10,581.28 Z" fill="#7b5fa0"/>
<path d="M85.07,586.80 L87.57,591.80 L82.57,591.80 Z" fill="#7b5fa0"/>
<path d="M104.53,581.91 L107.03,586.91 L102.03,586.91 Z" fill="#7b5fa0"/>
<path d="M124.00,557.20 L126.50,562.20 L121.50,562.20 Z" fill="#7b5fa0"/>
<path d="M143.47,532.75 L145.97,537.75 L140.97,537.75 Z" fill="#7b5fa0"/>
<path d="M162.93,556.71 L165.43,561.71 L160.43,561.71 Z" fill="#7b5fa0"/>
<path d="M182.40,620.06 L184.90,625.06 L179.90,625.06 Z" fill="#7b5fa0"/>
<path d="M201.87,647.46 L204.37,652.46 L199.37,652.46 Z" fill="#7b5fa0"/>
<text x="75.80" y="508.10" font-size="9.8" fill="#111" font-weight="bold" style="font-family:'Liberation Serif',serif" textLength="45.01" lengthAdjust="spacingAndGlyphs">2020-2021</text>
<text x="120.81" y="508.10" font-size="10.0" fill="#111" font-weight="bold" textLength="99.89" lengthAdjust="spacingAndGlyphs">年中国海绵钛产量对比</text>
<text x="27.30" y="518.60" font-size="8.5" fill="#404040" textLength="7.80" lengthAdjust="spacingAndGlyphs">吨</text>
<rect x="92.40" y="517.60" width="16.20" height="4.80" fill="#604a7b"/>
<text x="111.00" y="522.60" font-size="7.4" fill="#404040" textLength="16.46" lengthAdjust="spacingAndGlyphs">2020</text>
<text x="127.46" y="522.60" font-size="7.4" fill="#404040" textLength="6.14" lengthAdjust="spacingAndGlyphs">年</text>
<rect x="138.00" y="517.60" width="16.60" height="4.80" fill="#e46c0a"/>
<text x="156.70" y="522.60" font-size="7.4" fill="#404040" textLength="16.46" lengthAdjust="spacingAndGlyphs">2021</text>
<text x="173.16" y="522.60" font-size="7.4" fill="#404040" textLength="6.34" lengthAdjust="spacingAndGlyphs">年</text>
<line x1="181.60" y1="519.60" x2="198.00" y2="519.60" stroke="#ffc000" stroke-width="1.6"/>
<path d="M189.80,517.15 L192.05,521.65 L187.55,521.65 Z" fill="#7b5fa0"/>
<text x="201.00" y="522.60" font-size="8.2" fill="#404040" textLength="15.00" lengthAdjust="spacingAndGlyphs">同比</text>
<path d="M335.00,518.00 C336.00,510.50 355.00,510.50 356.00,518.00 Z" fill="#bac8e7"/>
<text x="336.20" y="523.80" font-size="7.4" fill="#aebde2" font-weight="bold" textLength="18.60" lengthAdjust="spacingAndGlyphs">TDD</text>
<path d="M338.00,524.30 Q345.50,527.00 353.00,524.30" fill="none" stroke="#c6d1ec" stroke-width="0.8"/>
<text x="362.00" y="520.80" font-size="7.6" fill="#c3cfec" font-weight="bold" textLength="34.00" lengthAdjust="spacingAndGlyphs">涂多多</text>
<text x="361.00" y="525.30" font-size="3.6" fill="#d3dbef" textLength="32.00" lengthAdjust="spacingAndGlyphs">toodudu.com</text>
<path d="M513.00,518.00 C514.00,510.50 533.00,510.50 534.00,518.00 Z" fill="#bac8e7"/>
<text x="514.20" y="523.80" font-size="7.4" fill="#aebde2" font-weight="bold" textLength="18.60" lengthAdjust="spacingAndGlyphs">TDD</text>
<path d="M516.00,524.30 Q523.50,527.00 531.00,524.30" fill="none" stroke="#c6d1ec" stroke-width="0.8"/>
<text x="540.00" y="520.80" font-size="7.6" fill="#c3cfec" font-weight="bold" textLength="34.00" lengthAdjust="spacingAndGlyphs">涂多多</text>
<text x="539.00" y="525.30" font-size="3.6" fill="#d3dbef" textLength="32.00" lengthAdjust="spacingAndGlyphs">toodudu.com</text>
<path d="M335.00,589.80 C336.00,582.30 355.00,582.30 356.00,589.80 Z" fill="#bac8e7"/>
<text x="336.20" y="595.60" font-size="7.4" fill="#aebde2" font-weight="bold" textLength="18.60" lengthAdjust="spacingAndGlyphs">TDD</text>
<path d="M338.00,596.10 Q345.50,598.80 353.00,596.10" fill="none" stroke="#c6d1ec" stroke-width="0.8"/>
<text x="362.00" y="592.60" font-size="7.6" fill="#c3cfec" font-weight="bold" textLength="34.00" lengthAdjust="spacingAndGlyphs">涂多多</text>
<text x="361.00" y="597.10" font-size="3.6" fill="#d3dbef" textLength="32.00" lengthAdjust="spacingAndGlyphs">toodudu.com</text>
<path d="M513.00,589.80 C514.00,582.30 533.00,582.30 534.00,589.80 Z" fill="#bac8e7"/>
<text x="514.20" y="595.60" font-size="7.4" fill="#aebde2" font-weight="bold" textLength="18.60" lengthAdjust="spacingAndGlyphs">TDD</text>
<path d="M516.00,596.10 Q523.50,598.80 531.00,596.10" fill="none" stroke="#c6d1ec" stroke-width="0.8"/>
<text x="540.00" y="592.60" font-size="7.6" fill="#c3cfec" font-weight="bold" textLength="34.00" lengthAdjust="spacingAndGlyphs">涂多多</text>
<text x="539.00" y="597.10" font-size="3.6" fill="#d3dbef" textLength="32.00" lengthAdjust="spacingAndGlyphs">toodudu.com</text>
<path d="M335.00,658.50 C336.00,651.00 355.00,651.00 356.00,658.50 Z" fill="#bac8e7"/>
<text x="336.20" y="664.30" font-size="7.4" fill="#aebde2" font-weight="bold" textLength="18.60" lengthAdjust="spacingAndGlyphs">TDD</text>
<path d="M338.00,664.80 Q345.50,667.50 353.00,664.80" fill="none" stroke="#c6d1ec" stroke-width="0.8"/>
<text x="362.00" y="661.30" font-size="7.6" fill="#c3cfec" font-weight="bold" textLength="34.00" lengthAdjust="spacingAndGlyphs">涂多多</text>
<text x="361.00" y="665.80" font-size="3.6" fill="#d3dbef" textLength="32.00" lengthAdjust="spacingAndGlyphs">toodudu.com</text>
<path d="M513.00,658.50 C514.00,651.00 533.00,651.00 534.00,658.50 Z" fill="#bac8e7"/>
<text x="514.20" y="664.30" font-size="7.4" fill="#aebde2" font-weight="bold" textLength="18.60" lengthAdjust="spacingAndGlyphs">TDD</text>
<path d="M516.00,664.80 Q523.50,667.50 531.00,664.80" fill="none" stroke="#c6d1ec" stroke-width="0.8"/>
<text x="540.00" y="661.30" font-size="7.6" fill="#c3cfec" font-weight="bold" textLength="34.00" lengthAdjust="spacingAndGlyphs">涂多多</text>
<text x="539.00" y="665.80" font-size="3.6" fill="#d3dbef" textLength="32.00" lengthAdjust="spacingAndGlyphs">toodudu.com</text>
<path d="M461.00,605.40 L461.00,532.90 A73.00,72.50 0 0 1 532.04,622.08 Z" fill="#4f81bd"/>
<path d="M461.00,605.40 L532.04,622.08 A73.00,72.50 0 0 1 470.78,677.25 Z" fill="#c0504d"/>
<path d="M461.00,605.40 L470.78,677.25 A73.00,72.50 0 0 1 401.79,647.81 Z" fill="#9bbb59"/>
<path d="M461.00,605.40 L401.79,647.81 A73.00,72.50 0 0 1 390.17,587.86 Z" fill="#8064a2"/>
<path d="M461.00,605.40 L390.17,587.86 A73.00,72.50 0 0 1 416.06,548.27 Z" fill="#4bacc6"/>
<path d="M461.00,605.40 L416.06,548.27 A73.00,72.50 0 0 1 456.29,533.05 Z" fill="#f79646"/>
<path d="M461.00,605.40 L456.29,533.05 A73.00,72.50 0 0 1 461.00,532.90 Z" fill="#9c6fa9"/>
<text x="488.75" y="569.50" font-size="7.8" fill="#404040" textLength="14.50" lengthAdjust="spacingAndGlyphs">辽宁</text>
<text x="496.00" y="578.20" font-size="7.2" fill="#404040" text-anchor="middle">33%</text>
<text x="487.45" y="645.50" font-size="7.8" fill="#404040" textLength="14.50" lengthAdjust="spacingAndGlyphs">四川</text>
<text x="494.70" y="654.20" font-size="7.2" fill="#404040" text-anchor="middle">19%</text>
<text x="432.75" y="653.50" font-size="7.8" fill="#404040" textLength="14.50" lengthAdjust="spacingAndGlyphs">新疆</text>
<text x="440.00" y="662.20" font-size="7.2" fill="#404040" text-anchor="middle">16%</text>
<text x="399.45" y="616.10" font-size="7.8" fill="#404040" textLength="14.50" lengthAdjust="spacingAndGlyphs">河南</text>
<text x="406.70" y="624.80" font-size="7.2" fill="#404040" text-anchor="middle">14%</text>
<text x="403.45" y="572.10" font-size="7.8" fill="#404040" textLength="14.50" lengthAdjust="spacingAndGlyphs">贵州</text>
<text x="410.70" y="580.80" font-size="7.2" fill="#404040" text-anchor="middle">10%</text>
<text x="431.95" y="549.50" font-size="7.8" fill="#404040" textLength="14.50" lengthAdjust="spacingAndGlyphs">云南</text>
<text x="439.20" y="558.20" font-size="7.2" fill="#404040" text-anchor="middle">8%</text>
<text x="451.45" y="532.10" font-size="7.8" fill="#404040" textLength="14.50" lengthAdjust="spacingAndGlyphs">甘肃</text>
<text x="458.70" y="540.80" font-size="7.2" fill="#404040" text-anchor="middle">1%</text>
<text x="382.90" y="517.50" font-size="10.0" fill="#111" font-weight="bold" style="font-family:'Liberation Serif',serif" textLength="20.00" lengthAdjust="spacingAndGlyphs">2021</text>
<text x="402.90" y="517.50" font-size="9.8" fill="#111" font-weight="bold" textLength="9.72" lengthAdjust="spacingAndGlyphs">年</text>
<text x="412.62" y="517.50" font-size="10.0" fill="#111" font-weight="bold" style="font-family:'Liberation Serif',serif" textLength="5.00" lengthAdjust="spacingAndGlyphs">9</text>
<text x="417.62" y="517.50" font-size="9.8" fill="#111" font-weight="bold" textLength="126.38" lengthAdjust="spacingAndGlyphs">月中国海绵钛产量分区域对比</text>
</svg>
</body></html>
